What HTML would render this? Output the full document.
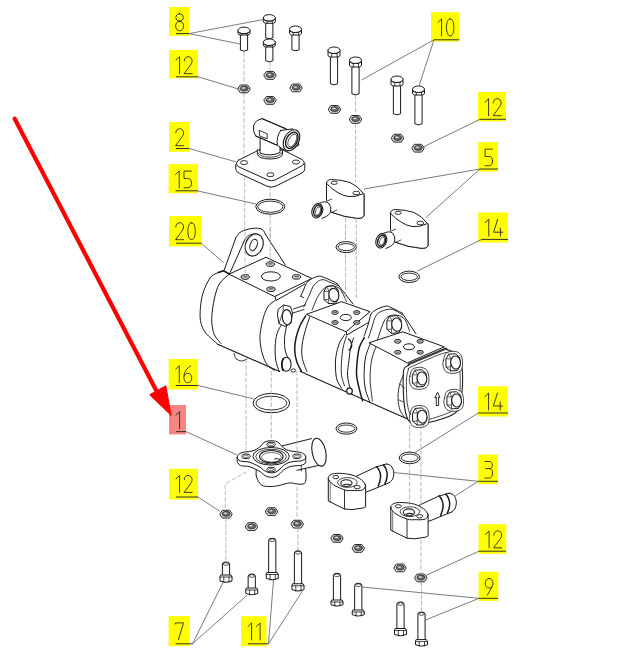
<!DOCTYPE html>
<html><head><meta charset="utf-8"><style>
html,body{margin:0;padding:0;background:#fff;}
svg{display:block;}
</style></head><body>
<svg width="624" height="664" viewBox="0 0 624 664">
<rect width="624" height="664" fill="#fff"/>

<line x1="244" y1="52" x2="244" y2="84" stroke="#a2a2a2" stroke-width="0.75" stroke-dasharray="4.5,1.8"/>
<line x1="244" y1="93" x2="244" y2="160" stroke="#a2a2a2" stroke-width="0.75" stroke-dasharray="4.5,1.8"/>
<line x1="244.7" y1="170" x2="244.7" y2="240" stroke="#a2a2a2" stroke-width="0.75" stroke-dasharray="4.5,1.8"/>
<line x1="270" y1="62" x2="270" y2="71" stroke="#a2a2a2" stroke-width="0.75" stroke-dasharray="4.5,1.8"/>
<line x1="270.2" y1="186" x2="270.2" y2="200" stroke="#a2a2a2" stroke-width="0.75" stroke-dasharray="4.5,1.8"/>
<line x1="270.2" y1="214" x2="270.2" y2="262" stroke="#a2a2a2" stroke-width="0.75" stroke-dasharray="4.5,1.8"/>
<line x1="355.5" y1="95" x2="355.5" y2="114" stroke="#a2a2a2" stroke-width="0.75" stroke-dasharray="4.5,1.8"/>
<line x1="355.5" y1="123" x2="355.5" y2="182" stroke="#a2a2a2" stroke-width="0.75" stroke-dasharray="4.5,1.8"/>
<path d="M223.50,270.70 L224.30,269.80 L236.00,237.30 L246.00,230.00 L254.30,228.20 L262.70,229.80 L265.20,234.00 L285.20,264.80 L311.90,278.50 L311.40,279.00 L315.00,276.70 L320.00,276.30 L325.00,277.50 L336.70,283.30 L353.30,305.00 L370.00,311.70 L372.70,311.80 L379.30,307.70 L386.00,306.80 L392.70,309.30 L416.00,331.80 L444.30,346.80 L450.00,351.70 L461.70,366.70 L462.50,385.00 L458.00,410.00 L423.30,423.30 L410.00,421.70 L408.00,419.20 L320.00,380.30 L299.10,371.00 L279.60,371.50 L217.70,344.20 L206.00,333.30 L201.00,323.30 L200.20,310.70 L202.70,294.00 L209.30,279.00 Z" fill="#fff" stroke="#1a1a1a" stroke-width="0" stroke-linejoin="round" stroke-linecap="round"/>
<path d="M223.50,270.70 C222.08,271.25 217.37,272.62 215.00,274.00 C212.63,275.38 211.35,275.67 209.30,279.00 C207.25,282.33 204.22,288.72 202.70,294.00 C201.18,299.28 200.48,305.82 200.20,310.70 C199.92,315.58 200.03,319.53 201.00,323.30 C201.97,327.07 203.22,329.82 206.00,333.30 C208.78,336.78 215.75,342.38 217.70,344.20" fill="none" stroke="#1a1a1a" stroke-width="1.0" stroke-linejoin="round" stroke-linecap="round"/>
<path d="M229.30,274.00 C227.63,275.67 221.80,279.83 219.30,284.00 C216.80,288.17 215.55,293.55 214.30,299.00 C213.05,304.45 212.10,311.87 211.80,316.70 C211.50,321.53 211.97,324.78 212.50,328.00 C213.03,331.22 213.58,333.42 215.00,336.00 C216.42,338.58 220.00,342.25 221.00,343.50" fill="none" stroke="#1a1a1a" stroke-width="1.0" stroke-linejoin="round" stroke-linecap="round"/>
<path d="M217.70,344.20 L279.60,371.50" fill="none" stroke="#1a1a1a" stroke-width="1.1" stroke-linejoin="round" stroke-linecap="round"/>
<path d="M218.50,272.50 L223.50,270.70 L229.30,274.00" fill="none" stroke="#1a1a1a" stroke-width="1.6" stroke-linejoin="round" stroke-linecap="round"/>
<path d="M229.30,274.00 L266.00,257.30 L311.90,278.50 L275.00,296.40 Z" fill="#fff" stroke="#1a1a1a" stroke-width="1.0" stroke-linejoin="round" stroke-linecap="round"/>
<path d="M275.00,296.40 L276.00,300.50 L304.70,284.10" fill="none" stroke="#1a1a1a" stroke-width="1.0" stroke-linejoin="round" stroke-linecap="round"/>
<ellipse cx="245.2" cy="277" rx="4.2" ry="2.3" fill="#d8d8d8" stroke="#1a1a1a" stroke-width="1.0"/>
<path d="M241.90,276.90 Q245.20,274.90 248.50,276.90 Q245.20,278.26 241.90,276.90 Z" fill="#6a6a6a" stroke="none"/>
<ellipse cx="270.4" cy="264.1" rx="4.2" ry="2.3" fill="#d8d8d8" stroke="#1a1a1a" stroke-width="1.0"/>
<path d="M267.10,264.00 Q270.40,262.00 273.70,264.00 Q270.40,265.37 267.10,264.00 Z" fill="#6a6a6a" stroke="none"/>
<ellipse cx="296.5" cy="276.9" rx="4.2" ry="2.3" fill="#d8d8d8" stroke="#1a1a1a" stroke-width="1.0"/>
<path d="M293.20,276.80 Q296.50,274.80 299.80,276.80 Q296.50,278.16 293.20,276.80 Z" fill="#6a6a6a" stroke="none"/>
<ellipse cx="270.9" cy="289.2" rx="4.2" ry="2.3" fill="#d8d8d8" stroke="#1a1a1a" stroke-width="1.0"/>
<path d="M267.60,289.10 Q270.90,287.10 274.20,289.10 Q270.90,290.46 267.60,289.10 Z" fill="#6a6a6a" stroke="none"/>
<ellipse cx="270.9" cy="276.4" rx="9.5" ry="4.6" fill="#fff" stroke="#1a1a1a" stroke-width="1.0"/>
<path d="M224.30,269.80 L236.00,237.30" fill="none" stroke="#1a1a1a" stroke-width="1.0" stroke-linejoin="round" stroke-linecap="round"/>
<path d="M236.00,237.30 C236.67,236.50 238.17,233.80 240.00,232.50 C241.83,231.20 244.62,230.22 247.00,229.50 C249.38,228.78 252.13,228.37 254.30,228.20 C256.47,228.03 258.47,228.12 260.00,228.50 C261.53,228.88 262.63,229.58 263.50,230.50 C264.37,231.42 264.92,233.42 265.20,234.00" fill="none" stroke="#1a1a1a" stroke-width="1.0" stroke-linejoin="round" stroke-linecap="round"/>
<path d="M265.20,234.00 L285.20,264.80" fill="none" stroke="#1a1a1a" stroke-width="1.0" stroke-linejoin="round" stroke-linecap="round"/>
<path d="M230.20,272.50 L244.30,240.70" fill="none" stroke="#1a1a1a" stroke-width="1.0" stroke-linejoin="round" stroke-linecap="round"/>
<path d="M244.30,240.70 C244.83,239.95 245.97,237.28 247.50,236.20 C249.03,235.12 251.58,234.32 253.50,234.20 C255.42,234.08 257.58,234.70 259.00,235.50 C260.42,236.30 261.50,238.42 262.00,239.00" fill="none" stroke="#1a1a1a" stroke-width="0.9" stroke-linejoin="round" stroke-linecap="round"/>
<ellipse cx="254.2" cy="245" rx="8.6" ry="11.4" fill="#fff" stroke="#1a1a1a" stroke-width="1.1" transform="rotate(22 254.2 245)"/>
<ellipse cx="253.6" cy="245" rx="3.4" ry="5.9" fill="#fff" stroke="#1a1a1a" stroke-width="1.0" transform="rotate(22 253.6 245)"/>
<path d="M275.00,300.50 C273.88,301.45 270.18,303.55 268.30,306.20 C266.42,308.85 265.05,311.88 263.70,316.40 C262.35,320.92 260.73,328.53 260.20,333.30 C259.67,338.07 260.03,341.22 260.50,345.00 C260.97,348.78 261.87,352.68 263.00,356.00 C264.13,359.32 265.38,362.48 267.30,364.90 C269.22,367.32 273.30,369.57 274.50,370.50" fill="none" stroke="#1a1a1a" stroke-width="1.0" stroke-linejoin="round" stroke-linecap="round"/>
<path d="M281.90,323.90 C281.10,325.48 278.23,329.55 277.10,333.40 C275.97,337.25 275.32,342.48 275.10,347.00 C274.88,351.52 275.12,356.43 275.80,360.50 C276.48,364.57 278.63,369.58 279.20,371.40" fill="none" stroke="#1a1a1a" stroke-width="1.0" stroke-linejoin="round" stroke-linecap="round"/>
<path d="M234.00,353.50 C234.33,354.33 234.75,357.25 236.00,358.50 C237.25,359.75 239.67,360.92 241.50,361.00 C243.33,361.08 246.08,359.33 247.00,359.00" fill="none" stroke="#1a1a1a" stroke-width="0.9" stroke-linejoin="round" stroke-linecap="round"/>
<path d="M292.00,313.00 C291.22,314.82 288.53,319.82 287.30,323.90 C286.07,327.98 284.93,332.98 284.60,337.50 C284.27,342.02 284.52,347.17 285.30,351.00 C286.08,354.83 288.63,358.92 289.30,360.50" fill="none" stroke="#1a1a1a" stroke-width="1.0" stroke-linejoin="round" stroke-linecap="round"/>
<path d="M305.60,315.80 C304.70,317.38 301.78,321.68 300.20,325.30 C298.62,328.92 297.02,333.43 296.10,337.50 C295.18,341.57 294.58,345.63 294.70,349.70 C294.82,353.77 295.67,358.28 296.80,361.90 C297.93,365.52 300.72,369.82 301.50,371.40" fill="none" stroke="#1a1a1a" stroke-width="1.5" stroke-linejoin="round" stroke-linecap="round"/>
<path d="M309.70,317.10 C309.02,319.13 306.85,324.78 305.60,329.30 C304.35,333.82 302.77,339.45 302.20,344.20 C301.63,348.95 301.42,353.27 302.20,357.80 C302.98,362.33 306.12,369.13 306.90,371.40" fill="none" stroke="#1a1a1a" stroke-width="1.0" stroke-linejoin="round" stroke-linecap="round"/>
<path d="M293.40,309.00 L305.60,304.90" fill="none" stroke="#1a1a1a" stroke-width="0.9" stroke-linejoin="round" stroke-linecap="round"/>
<path d="M291.50,313.50 L304.00,309.50" fill="none" stroke="#1a1a1a" stroke-width="0.9" stroke-linejoin="round" stroke-linecap="round"/>
<path d="M278.50,309.00 L283.50,305.00 L290.50,306.50 L292.50,313.00 L291.00,323.00 L285.00,326.50 L279.00,323.50 L277.50,315.00 Z" fill="#fff" stroke="#1a1a1a" stroke-width="1.0" stroke-linejoin="round" stroke-linecap="round"/>
<path d="M283.50,305.00 L283.00,312.00 L279.00,323.50" fill="none" stroke="#1a1a1a" stroke-width="0.7" stroke-linejoin="round" stroke-linecap="round"/>
<ellipse cx="287" cy="317.2" rx="4.7" ry="7.6" fill="#fff" stroke="#1a1a1a" stroke-width="1.1" transform="rotate(-5 287 317.2)"/>
<ellipse cx="286.4" cy="364.3" rx="4.7" ry="7" fill="#fff" stroke="#1a1a1a" stroke-width="1.1"/>
<path d="M283.2,358.5 Q280.6,364 283,370.5" fill="none" stroke="#1a1a1a" stroke-width="1.6" stroke-linejoin="round" stroke-linecap="round"/>
<ellipse cx="293.4" cy="370.5" rx="2.3" ry="1.6" fill="#fff" stroke="#1a1a1a" stroke-width="0.9"/>
<path d="M300.80,296.20 L337.00,283.50 L353.10,304.10 L345.00,301.80 L315.00,310.00 L300.80,296.20" fill="#fff" stroke="#1a1a1a" stroke-width="0" stroke-linejoin="round" stroke-linecap="round"/>
<path d="M300.80,296.20 C301.25,295.17 302.57,292.15 303.50,290.00 C304.43,287.85 305.15,285.10 306.40,283.30 C307.65,281.50 309.03,280.38 311.00,279.20 C312.97,278.02 316.15,276.53 318.20,276.20 C320.25,275.87 321.33,276.57 323.30,277.20 C325.27,277.83 327.72,278.95 330.00,280.00 C332.28,281.05 335.83,282.92 337.00,283.50" fill="#fff" stroke="#1a1a1a" stroke-width="1.0" stroke-linejoin="round" stroke-linecap="round"/>
<path d="M337.00,283.50 L353.10,304.10" fill="none" stroke="#1a1a1a" stroke-width="1.0" stroke-linejoin="round" stroke-linecap="round"/>
<path d="M300.80,296.20 L303.80,297.70" fill="none" stroke="#1a1a1a" stroke-width="0.9" stroke-linejoin="round" stroke-linecap="round"/>
<path d="M303.80,306.90 C304.33,305.75 305.97,302.22 307.00,300.00 C308.03,297.78 308.98,295.87 310.00,293.60 C311.02,291.33 311.73,288.45 313.10,286.40 C314.47,284.35 316.50,282.42 318.20,281.30 C319.90,280.18 321.33,279.53 323.30,279.70 C325.27,279.87 327.63,281.33 330.00,282.30 C332.37,283.27 336.25,284.97 337.50,285.50" fill="none" stroke="#1a1a1a" stroke-width="0.9" stroke-linejoin="round" stroke-linecap="round"/>
<path d="M312.00,310.00 C312.42,309.00 313.63,306.05 314.50,304.00 C315.37,301.95 316.07,299.78 317.20,297.70 C318.33,295.62 319.93,293.22 321.30,291.50 C322.67,289.78 323.78,288.35 325.40,287.40 C327.02,286.45 328.90,285.78 331.00,285.80 C333.10,285.82 336.17,286.47 338.00,287.50 C339.83,288.53 340.58,289.67 342.00,292.00 C343.42,294.33 345.75,299.92 346.50,301.50" fill="none" stroke="#1a1a1a" stroke-width="0.9" stroke-linejoin="round" stroke-linecap="round"/>
<path d="M324.11,291.25 L326.64,286.49 L333.73,285.98 L338.09,289.73 L338.50,298.35 L335.76,303.21 L328.67,303.62 L324.31,299.87 Z" fill="#fff" stroke="#1a1a1a" stroke-width="1.0" stroke-linejoin="round" stroke-linecap="round"/>
<path d="M326.64,286.49 L329.17,291.25 L328.67,299.36 L328.67,303.62" fill="none" stroke="#1a1a1a" stroke-width="0.7" stroke-linejoin="round" stroke-linecap="round"/>
<path d="M324.11,291.25 L329.17,291.25" fill="none" stroke="#1a1a1a" stroke-width="0.7" stroke-linejoin="round" stroke-linecap="round"/>
<path d="M324.31,299.87 L328.67,299.36" fill="none" stroke="#1a1a1a" stroke-width="0.7" stroke-linejoin="round" stroke-linecap="round"/>
<ellipse cx="333.83" cy="295.0" rx="4.97" ry="6.69" fill="#fff" stroke="#1a1a1a" stroke-width="1.1" transform="rotate(-8 333.83 295.0)"/>
<path d="M306.70,314.20 L341.70,301.70 L370.00,311.70 L346.30,331.50 Z" fill="#fff" stroke="#1a1a1a" stroke-width="1.0" stroke-linejoin="round" stroke-linecap="round"/>
<path d="M346.30,331.50 L346.70,335.00 L369.30,322.00" fill="none" stroke="#1a1a1a" stroke-width="1.0" stroke-linejoin="round" stroke-linecap="round"/>
<ellipse cx="335" cy="312.5" rx="3.2" ry="1.9" fill="#d8d8d8" stroke="#1a1a1a" stroke-width="1.0"/>
<path d="M332.70,312.40 Q335.00,310.80 337.30,312.40 Q335.00,313.55 332.70,312.40 Z" fill="#6a6a6a" stroke="none"/>
<ellipse cx="356.7" cy="312.5" rx="3.2" ry="1.9" fill="#d8d8d8" stroke="#1a1a1a" stroke-width="1.0"/>
<path d="M354.40,312.40 Q356.70,310.80 359.00,312.40 Q356.70,313.55 354.40,312.40 Z" fill="#6a6a6a" stroke="none"/>
<ellipse cx="335" cy="322.5" rx="3.2" ry="1.9" fill="#d8d8d8" stroke="#1a1a1a" stroke-width="1.0"/>
<path d="M332.70,322.40 Q335.00,320.80 337.30,322.40 Q335.00,323.55 332.70,322.40 Z" fill="#6a6a6a" stroke="none"/>
<ellipse cx="356.7" cy="322.5" rx="3.2" ry="1.9" fill="#d8d8d8" stroke="#1a1a1a" stroke-width="1.0"/>
<path d="M354.40,322.40 Q356.70,320.80 359.00,322.40 Q356.70,323.55 354.40,322.40 Z" fill="#6a6a6a" stroke="none"/>
<ellipse cx="345.8" cy="317.5" rx="5.6" ry="3.1" fill="#fff" stroke="#1a1a1a" stroke-width="1.0"/>
<path d="M345.00,334.20 C344.08,335.67 341.00,339.37 339.50,343.00 C338.00,346.63 336.67,351.83 336.00,356.00 C335.33,360.17 335.33,364.00 335.50,368.00 C335.67,372.00 335.97,376.62 337.00,380.00 C338.03,383.38 340.92,386.92 341.70,388.30" fill="none" stroke="#1a1a1a" stroke-width="1.0" stroke-linejoin="round" stroke-linecap="round"/>
<path d="M300.10,371.30 L320.00,380.30 L408.00,419.20" fill="none" stroke="#1a1a1a" stroke-width="1.1" stroke-linejoin="round" stroke-linecap="round"/>
<path d="M346.50,336.00 C345.92,338.00 343.83,343.67 343.00,348.00 C342.17,352.33 341.75,357.47 341.50,362.00 C341.25,366.53 341.00,371.25 341.50,375.20 C342.00,379.15 344.00,383.95 344.50,385.70" fill="none" stroke="#1a1a1a" stroke-width="0.9" stroke-linejoin="round" stroke-linecap="round"/>
<path d="M353.60,338.00 C353.08,339.67 351.27,344.32 350.50,348.00 C349.73,351.68 349.50,355.57 349.00,360.10 C348.50,364.63 347.25,370.18 347.50,375.20 C347.75,380.22 349.75,387.18 350.50,390.20 C351.25,393.22 351.75,392.78 352.00,393.30" fill="none" stroke="#1a1a1a" stroke-width="1.0" stroke-linejoin="round" stroke-linecap="round"/>
<path d="M364.30,337.70 C363.50,339.25 360.67,343.27 359.50,347.00 C358.33,350.73 357.78,355.40 357.30,360.10 C356.82,364.80 356.22,370.18 356.60,375.20 C356.98,380.22 358.60,385.93 359.60,390.20 C360.60,394.47 362.10,399.03 362.60,400.80" fill="none" stroke="#1a1a1a" stroke-width="1.5" stroke-linejoin="round" stroke-linecap="round"/>
<path d="M370.10,344.30 C369.35,346.43 366.60,351.95 365.60,357.10 C364.60,362.25 364.10,369.68 364.10,375.20 C364.10,380.72 364.60,385.68 365.60,390.20 C366.60,394.72 369.35,400.28 370.10,402.30" fill="none" stroke="#1a1a1a" stroke-width="1.0" stroke-linejoin="round" stroke-linecap="round"/>
<path d="M376.10,346.60 C375.35,348.85 372.60,354.58 371.60,360.10 C370.60,365.62 369.97,372.92 370.10,379.70 C370.23,386.48 372.02,397.28 372.40,400.80" fill="none" stroke="#1a1a1a" stroke-width="0.9" stroke-linejoin="round" stroke-linecap="round"/>
<path d="M348.50,339.00 C348.92,339.50 350.50,340.67 351.00,342.00 C351.50,343.33 351.83,345.67 351.50,347.00 C351.17,348.33 349.42,349.50 349.00,350.00" fill="none" stroke="#1a1a1a" stroke-width="1.3" stroke-linejoin="round" stroke-linecap="round"/>
<ellipse cx="349.5" cy="391" rx="2.8" ry="3.2" fill="#fff" stroke="#1a1a1a" stroke-width="1.2"/>
<path d="M364.10,336.10 C364.75,334.25 366.85,328.67 368.00,325.00 C369.15,321.33 369.92,316.48 371.00,314.10 C372.08,311.72 373.00,311.75 374.50,310.70 C376.00,309.65 378.08,308.57 380.00,307.80 C381.92,307.03 384.43,306.28 386.00,306.10 C387.57,305.92 386.72,305.55 389.40,306.70 C392.08,307.85 399.98,311.95 402.10,313.00" fill="#fff" stroke="#1a1a1a" stroke-width="1.0" stroke-linejoin="round" stroke-linecap="round"/>
<path d="M402.10,313.00 L416.00,333.80 L406.70,331.40 L377.00,340.00 L364.10,336.10" fill="#fff" stroke="#1a1a1a" stroke-width="0" stroke-linejoin="round" stroke-linecap="round"/>
<path d="M402.10,313.00 L416.00,333.80" fill="none" stroke="#1a1a1a" stroke-width="1.0" stroke-linejoin="round" stroke-linecap="round"/>
<path d="M368.50,338.00 C369.08,336.17 370.83,330.58 372.00,327.00 C373.17,323.42 374.00,319.08 375.50,316.50 C377.00,313.92 378.25,312.70 381.00,311.50 C383.75,310.30 388.40,308.72 392.00,309.30 C395.60,309.88 400.83,314.05 402.60,315.00" fill="none" stroke="#1a1a1a" stroke-width="0.9" stroke-linejoin="round" stroke-linecap="round"/>
<path d="M377.50,339.50 C377.92,338.25 379.17,334.42 380.00,332.00 C380.83,329.58 381.67,327.08 382.50,325.00 C383.33,322.92 383.83,321.00 385.00,319.50 C386.17,318.00 387.67,316.75 389.50,316.00 C391.33,315.25 393.92,314.83 396.00,315.00 C398.08,315.17 400.33,315.92 402.00,317.00 C403.67,318.08 404.75,319.17 406.00,321.50 C407.25,323.83 408.92,329.42 409.50,331.00" fill="none" stroke="#1a1a1a" stroke-width="0.9" stroke-linejoin="round" stroke-linecap="round"/>
<path d="M387.01,320.95 L389.54,316.19 L396.63,315.68 L400.99,319.43 L401.40,328.05 L398.66,332.91 L391.57,333.32 L387.21,329.57 Z" fill="#fff" stroke="#1a1a1a" stroke-width="1.0" stroke-linejoin="round" stroke-linecap="round"/>
<path d="M389.54,316.19 L392.07,320.95 L391.57,329.06 L391.57,333.32" fill="none" stroke="#1a1a1a" stroke-width="0.7" stroke-linejoin="round" stroke-linecap="round"/>
<path d="M387.01,320.95 L392.07,320.95" fill="none" stroke="#1a1a1a" stroke-width="0.7" stroke-linejoin="round" stroke-linecap="round"/>
<path d="M387.21,329.57 L391.57,329.06" fill="none" stroke="#1a1a1a" stroke-width="0.7" stroke-linejoin="round" stroke-linecap="round"/>
<ellipse cx="396.73" cy="324.7" rx="4.97" ry="6.69" fill="#fff" stroke="#1a1a1a" stroke-width="1.1" transform="rotate(-8 396.73 324.7)"/>
<path d="M369.30,342.70 L402.70,331.80 L444.30,346.80 L407.70,362.70 Z" fill="#fff" stroke="#1a1a1a" stroke-width="1.0" stroke-linejoin="round" stroke-linecap="round"/>
<ellipse cx="397.7" cy="341.3" rx="3.2" ry="1.9" fill="#d8d8d8" stroke="#1a1a1a" stroke-width="1.0"/>
<path d="M395.40,341.20 Q397.70,339.60 400.00,341.20 Q397.70,342.35 395.40,341.20 Z" fill="#6a6a6a" stroke="none"/>
<ellipse cx="420.2" cy="341.3" rx="3.2" ry="1.9" fill="#d8d8d8" stroke="#1a1a1a" stroke-width="1.0"/>
<path d="M417.90,341.20 Q420.20,339.60 422.50,341.20 Q420.20,342.35 417.90,341.20 Z" fill="#6a6a6a" stroke="none"/>
<ellipse cx="397.7" cy="352.3" rx="3.2" ry="1.9" fill="#d8d8d8" stroke="#1a1a1a" stroke-width="1.0"/>
<path d="M395.40,352.20 Q397.70,350.60 400.00,352.20 Q397.70,353.35 395.40,352.20 Z" fill="#6a6a6a" stroke="none"/>
<ellipse cx="420.2" cy="352.3" rx="3.2" ry="1.9" fill="#d8d8d8" stroke="#1a1a1a" stroke-width="1.0"/>
<path d="M417.90,352.20 Q420.20,350.60 422.50,352.20 Q420.20,353.35 417.90,352.20 Z" fill="#6a6a6a" stroke="none"/>
<ellipse cx="409" cy="346.8" rx="5.5" ry="3" fill="#fff" stroke="#1a1a1a" stroke-width="1.0"/>
<path d="M446.00,349.30 C447.00,349.67 449.83,350.05 452.00,351.50 C454.17,352.95 457.33,355.25 459.00,358.00 C460.67,360.75 461.42,363.50 462.00,368.00 C462.58,372.50 462.67,380.00 462.50,385.00 C462.33,390.00 461.75,393.83 461.00,398.00 C460.25,402.17 459.83,407.00 458.00,410.00 C456.17,413.00 453.83,414.17 450.00,416.00 C446.17,417.83 439.45,419.78 435.00,421.00 C430.55,422.22 427.47,423.18 423.30,423.30 C419.13,423.42 412.97,423.58 410.00,421.70 C407.03,419.82 406.58,416.45 405.50,412.00 C404.42,407.55 403.87,401.45 403.50,395.00 C403.13,388.55 403.05,377.88 403.30,373.30 C403.55,368.72 404.00,368.88 405.00,367.50 C406.00,366.12 408.58,365.42 409.30,365.00" fill="#fff" stroke="#1a1a1a" stroke-width="1.1" stroke-linejoin="round" stroke-linecap="round"/>
<path d="M408.50,369.00 C409.08,368.58 405.75,369.25 412.00,366.50 C418.25,363.75 438.67,353.92 446.00,352.50 C453.33,351.08 453.75,355.42 456.00,358.00 C458.25,360.58 458.83,362.67 459.50,368.00 C460.17,373.33 460.58,383.50 460.00,390.00 C459.42,396.50 458.00,403.17 456.00,407.00 C454.00,410.83 453.33,410.75 448.00,413.00 C442.67,415.25 429.83,419.58 424.00,420.50 C418.17,421.42 415.75,421.08 413.00,418.50 C410.25,415.92 408.58,411.42 407.50,405.00 C406.42,398.58 406.33,386.00 406.50,380.00 C406.67,374.00 408.17,370.83 408.50,369.00 C408.83,367.17 407.92,369.42 408.50,369.00 Z" fill="none" stroke="#1a1a1a" stroke-width="0.8" stroke-linejoin="round" stroke-linecap="round"/>
<path d="M408.5,364.2 L446,348.6" fill="none" stroke="#3a3a3a" stroke-width="2.2" stroke-linejoin="round" stroke-linecap="round"/>
<path d="M403.50,375.00 C402.83,376.67 400.42,381.17 399.50,385.00 C398.58,388.83 397.92,393.83 398.00,398.00 C398.08,402.17 398.83,406.67 400.00,410.00 C401.17,413.33 404.17,416.67 405.00,418.00" fill="none" stroke="#1a1a1a" stroke-width="0.9" stroke-linejoin="round" stroke-linecap="round"/>
<path d="M400.00,384.00 L404.50,388.00" fill="none" stroke="#1a1a1a" stroke-width="0.8" stroke-linejoin="round" stroke-linecap="round"/>
<path d="M399.00,400.00 L403.50,402.00" fill="none" stroke="#1a1a1a" stroke-width="0.8" stroke-linejoin="round" stroke-linecap="round"/>
<path d="M409.90,376.30 C410.40,374.30 410.65,370.80 412.40,369.30 C414.15,367.80 417.98,367.13 420.40,367.30 C422.82,367.47 425.48,368.47 426.90,370.30 C428.32,372.13 428.82,375.63 428.90,378.30 C428.98,380.97 428.82,384.47 427.40,386.30 C425.98,388.13 422.90,389.05 420.40,389.30 C417.90,389.55 414.23,389.13 412.40,387.80 C410.57,386.47 409.82,383.22 409.40,381.30 C408.98,379.38 409.40,378.30 409.90,376.30 Z" fill="#fff" stroke="#1a1a1a" stroke-width="0.8" stroke-linejoin="round" stroke-linecap="round"/>
<path d="M412.49,374.85 L414.96,370.21 L421.87,369.72 L426.11,373.37 L426.50,381.75 L423.84,386.49 L416.93,386.88 L412.69,383.23 Z" fill="#fff" stroke="#1a1a1a" stroke-width="1.0" stroke-linejoin="round" stroke-linecap="round"/>
<path d="M414.96,370.21 L417.43,374.85 L416.93,382.74 L416.93,386.88" fill="none" stroke="#1a1a1a" stroke-width="0.7" stroke-linejoin="round" stroke-linecap="round"/>
<path d="M412.49,374.85 L417.43,374.85" fill="none" stroke="#1a1a1a" stroke-width="0.7" stroke-linejoin="round" stroke-linecap="round"/>
<path d="M412.69,383.23 L416.93,382.74" fill="none" stroke="#1a1a1a" stroke-width="0.7" stroke-linejoin="round" stroke-linecap="round"/>
<ellipse cx="421.97" cy="378.5" rx="4.83" ry="6.51" fill="#fff" stroke="#1a1a1a" stroke-width="1.1" transform="rotate(-8 421.97 378.5)"/>
<path d="M443.50,360.30 C444.00,358.30 444.25,354.80 446.00,353.30 C447.75,351.80 451.58,351.13 454.00,351.30 C456.42,351.47 459.08,352.47 460.50,354.30 C461.92,356.13 462.42,359.63 462.50,362.30 C462.58,364.97 462.42,368.47 461.00,370.30 C459.58,372.13 456.50,373.05 454.00,373.30 C451.50,373.55 447.83,373.13 446.00,371.80 C444.17,370.47 443.42,367.22 443.00,365.30 C442.58,363.38 443.00,362.30 443.50,360.30 Z" fill="#fff" stroke="#1a1a1a" stroke-width="0.8" stroke-linejoin="round" stroke-linecap="round"/>
<path d="M446.09,358.85 L448.56,354.21 L455.47,353.72 L459.71,357.37 L460.10,365.75 L457.44,370.49 L450.53,370.88 L446.29,367.23 Z" fill="#fff" stroke="#1a1a1a" stroke-width="1.0" stroke-linejoin="round" stroke-linecap="round"/>
<path d="M448.56,354.21 L451.03,358.85 L450.53,366.74 L450.53,370.88" fill="none" stroke="#1a1a1a" stroke-width="0.7" stroke-linejoin="round" stroke-linecap="round"/>
<path d="M446.09,358.85 L451.03,358.85" fill="none" stroke="#1a1a1a" stroke-width="0.7" stroke-linejoin="round" stroke-linecap="round"/>
<path d="M446.29,367.23 L450.53,366.74" fill="none" stroke="#1a1a1a" stroke-width="0.7" stroke-linejoin="round" stroke-linecap="round"/>
<ellipse cx="455.57" cy="362.5" rx="4.83" ry="6.51" fill="#fff" stroke="#1a1a1a" stroke-width="1.1" transform="rotate(-8 455.57 362.5)"/>
<path d="M444.50,398.30 C445.00,396.30 445.25,392.80 447.00,391.30 C448.75,389.80 452.58,389.13 455.00,389.30 C457.42,389.47 460.08,390.47 461.50,392.30 C462.92,394.13 463.42,397.63 463.50,400.30 C463.58,402.97 463.42,406.47 462.00,408.30 C460.58,410.13 457.50,411.05 455.00,411.30 C452.50,411.55 448.83,411.13 447.00,409.80 C445.17,408.47 444.42,405.22 444.00,403.30 C443.58,401.38 444.00,400.30 444.50,398.30 Z" fill="#fff" stroke="#1a1a1a" stroke-width="0.8" stroke-linejoin="round" stroke-linecap="round"/>
<path d="M447.09,396.85 L449.56,392.21 L456.47,391.72 L460.71,395.37 L461.10,403.75 L458.44,408.49 L451.53,408.88 L447.29,405.23 Z" fill="#fff" stroke="#1a1a1a" stroke-width="1.0" stroke-linejoin="round" stroke-linecap="round"/>
<path d="M449.56,392.21 L452.03,396.85 L451.53,404.74 L451.53,408.88" fill="none" stroke="#1a1a1a" stroke-width="0.7" stroke-linejoin="round" stroke-linecap="round"/>
<path d="M447.09,396.85 L452.03,396.85" fill="none" stroke="#1a1a1a" stroke-width="0.7" stroke-linejoin="round" stroke-linecap="round"/>
<path d="M447.29,405.23 L451.53,404.74" fill="none" stroke="#1a1a1a" stroke-width="0.7" stroke-linejoin="round" stroke-linecap="round"/>
<ellipse cx="456.57" cy="400.5" rx="4.83" ry="6.51" fill="#fff" stroke="#1a1a1a" stroke-width="1.1" transform="rotate(-8 456.57 400.5)"/>
<path d="M410.10,414.50 C410.60,412.50 410.85,409.00 412.60,407.50 C414.35,406.00 418.18,405.33 420.60,405.50 C423.02,405.67 425.68,406.67 427.10,408.50 C428.52,410.33 429.02,413.83 429.10,416.50 C429.18,419.17 429.02,422.67 427.60,424.50 C426.18,426.33 423.10,427.25 420.60,427.50 C418.10,427.75 414.43,427.33 412.60,426.00 C410.77,424.67 410.02,421.42 409.60,419.50 C409.18,417.58 409.60,416.50 410.10,414.50 Z" fill="#fff" stroke="#1a1a1a" stroke-width="0.8" stroke-linejoin="round" stroke-linecap="round"/>
<path d="M412.69,413.05 L415.16,408.41 L422.07,407.92 L426.31,411.57 L426.70,419.95 L424.04,424.69 L417.13,425.08 L412.89,421.43 Z" fill="#fff" stroke="#1a1a1a" stroke-width="1.0" stroke-linejoin="round" stroke-linecap="round"/>
<path d="M415.16,408.41 L417.63,413.05 L417.13,420.94 L417.13,425.08" fill="none" stroke="#1a1a1a" stroke-width="0.7" stroke-linejoin="round" stroke-linecap="round"/>
<path d="M412.69,413.05 L417.63,413.05" fill="none" stroke="#1a1a1a" stroke-width="0.7" stroke-linejoin="round" stroke-linecap="round"/>
<path d="M412.89,421.43 L417.13,420.94" fill="none" stroke="#1a1a1a" stroke-width="0.7" stroke-linejoin="round" stroke-linecap="round"/>
<ellipse cx="422.17" cy="416.7" rx="4.83" ry="6.51" fill="#fff" stroke="#1a1a1a" stroke-width="1.1" transform="rotate(-8 422.17 416.7)"/>
<path d="M436.30,405.50 L436.30,397.00 L434.80,398.00 L437.60,392.20 L439.90,397.50 L438.60,397.00 L438.60,405.50 L436.30,405.50" fill="#fff" stroke="#1a1a1a" stroke-width="0.9" stroke-linejoin="round" stroke-linecap="round"/>
<line x1="245" y1="232" x2="245" y2="273" stroke="#a2a2a2" stroke-width="0.75" stroke-dasharray="4.5,1.8"/>
<line x1="270.2" y1="228" x2="270.2" y2="261" stroke="#a2a2a2" stroke-width="0.75" stroke-dasharray="4.5,1.8"/>
<path d="M240.40,35 L240.40,50.099999999999994 Q244.00,52.099999999999994 247.60,50.099999999999994 L247.60,35" fill="#fff" stroke="#1a1a1a" stroke-width="1.0" stroke-linejoin="round" stroke-linecap="round"/>
<path d="M238.00,30.40 L238.00,33.70 L240.00,35.00 L248.00,35.00 L250.00,33.70 L250.00,30.40" fill="#fff" stroke="#1a1a1a" stroke-width="1.0" stroke-linejoin="round" stroke-linecap="round"/>
<ellipse cx="244.00" cy="30.40" rx="6.00" ry="3.30" fill="#fff" stroke="#1a1a1a" stroke-width="1"/>
<path d="M238.50,32.40 L241.80,33.60 L247.00,33.40 L249.50,31.90 M241.80,33.60 L241.80,35.00 M247.00,33.40 L247.00,35.00" fill="none" stroke="#1a1a1a" stroke-width="0.8" stroke-linejoin="round" stroke-linecap="round"/>
<path d="M265.70,23.3 L265.70,37.8 Q269.30,39.8 272.90,37.8 L272.90,23.3" fill="#fff" stroke="#1a1a1a" stroke-width="1.0" stroke-linejoin="round" stroke-linecap="round"/>
<path d="M263.30,17.90 L263.30,22.00 L265.30,23.30 L273.30,23.30 L275.30,22.00 L275.30,17.90" fill="#fff" stroke="#1a1a1a" stroke-width="1.0" stroke-linejoin="round" stroke-linecap="round"/>
<ellipse cx="269.30" cy="17.90" rx="6.00" ry="3.30" fill="#fff" stroke="#1a1a1a" stroke-width="1"/>
<path d="M263.80,19.90 L267.10,21.10 L272.30,20.90 L274.80,19.40 M267.10,21.10 L267.10,23.30 M272.30,20.90 L272.30,23.30" fill="none" stroke="#1a1a1a" stroke-width="0.8" stroke-linejoin="round" stroke-linecap="round"/>
<path d="M265.70,47 L265.70,60.8 Q269.30,62.8 272.90,60.8 L272.90,47" fill="#fff" stroke="#1a1a1a" stroke-width="1.0" stroke-linejoin="round" stroke-linecap="round"/>
<path d="M263.30,42.30 L263.30,45.70 L265.30,47.00 L273.30,47.00 L275.30,45.70 L275.30,42.30" fill="#fff" stroke="#1a1a1a" stroke-width="1.0" stroke-linejoin="round" stroke-linecap="round"/>
<ellipse cx="269.30" cy="42.30" rx="6.00" ry="3.30" fill="#fff" stroke="#1a1a1a" stroke-width="1"/>
<path d="M263.80,44.30 L267.10,45.50 L272.30,45.30 L274.80,43.80 M267.10,45.50 L267.10,47.00 M272.30,45.30 L272.30,47.00" fill="none" stroke="#1a1a1a" stroke-width="0.8" stroke-linejoin="round" stroke-linecap="round"/>
<path d="M291.90,35 L291.90,49.8 Q295.50,51.8 299.10,49.8 L299.10,35" fill="#fff" stroke="#1a1a1a" stroke-width="1.0" stroke-linejoin="round" stroke-linecap="round"/>
<path d="M289.50,29.30 L289.50,33.70 L291.50,35.00 L299.50,35.00 L301.50,33.70 L301.50,29.30" fill="#fff" stroke="#1a1a1a" stroke-width="1.0" stroke-linejoin="round" stroke-linecap="round"/>
<ellipse cx="295.50" cy="29.30" rx="6.00" ry="3.30" fill="#fff" stroke="#1a1a1a" stroke-width="1"/>
<path d="M290.00,31.30 L293.30,32.50 L298.50,32.30 L301.00,30.80 M293.30,32.50 L293.30,35.00 M298.50,32.30 L298.50,35.00" fill="none" stroke="#1a1a1a" stroke-width="0.8" stroke-linejoin="round" stroke-linecap="round"/>
<path d="M330.40,57 L330.40,83.8 Q334.00,85.8 337.60,83.8 L337.60,57" fill="#fff" stroke="#1a1a1a" stroke-width="1.0" stroke-linejoin="round" stroke-linecap="round"/>
<path d="M328.00,50.30 L328.00,55.70 L330.00,57.00 L338.00,57.00 L340.00,55.70 L340.00,50.30" fill="#fff" stroke="#1a1a1a" stroke-width="1.0" stroke-linejoin="round" stroke-linecap="round"/>
<ellipse cx="334.00" cy="50.30" rx="6.00" ry="3.30" fill="#fff" stroke="#1a1a1a" stroke-width="1"/>
<path d="M328.50,52.30 L331.80,53.50 L337.00,53.30 L339.50,51.80 M331.80,53.50 L331.80,57.00 M337.00,53.30 L337.00,57.00" fill="none" stroke="#1a1a1a" stroke-width="0.8" stroke-linejoin="round" stroke-linecap="round"/>
<path d="M351.90,67 L351.90,93.8 Q355.50,95.8 359.10,93.8 L359.10,67" fill="#fff" stroke="#1a1a1a" stroke-width="1.0" stroke-linejoin="round" stroke-linecap="round"/>
<path d="M349.50,60.30 L349.50,65.70 L351.50,67.00 L359.50,67.00 L361.50,65.70 L361.50,60.30" fill="#fff" stroke="#1a1a1a" stroke-width="1.0" stroke-linejoin="round" stroke-linecap="round"/>
<ellipse cx="355.50" cy="60.30" rx="6.00" ry="3.30" fill="#fff" stroke="#1a1a1a" stroke-width="1"/>
<path d="M350.00,62.30 L353.30,63.50 L358.50,63.30 L361.00,61.80 M353.30,63.50 L353.30,67.00 M358.50,63.30 L358.50,67.00" fill="none" stroke="#1a1a1a" stroke-width="0.8" stroke-linejoin="round" stroke-linecap="round"/>
<path d="M393.40,86 L393.40,113.8 Q397.00,115.8 400.60,113.8 L400.60,86" fill="#fff" stroke="#1a1a1a" stroke-width="1.0" stroke-linejoin="round" stroke-linecap="round"/>
<path d="M391.00,79.30 L391.00,84.70 L393.00,86.00 L401.00,86.00 L403.00,84.70 L403.00,79.30" fill="#fff" stroke="#1a1a1a" stroke-width="1.0" stroke-linejoin="round" stroke-linecap="round"/>
<ellipse cx="397.00" cy="79.30" rx="6.00" ry="3.30" fill="#fff" stroke="#1a1a1a" stroke-width="1"/>
<path d="M391.50,81.30 L394.80,82.50 L400.00,82.30 L402.50,80.80 M394.80,82.50 L394.80,86.00 M400.00,82.30 L400.00,86.00" fill="none" stroke="#1a1a1a" stroke-width="0.8" stroke-linejoin="round" stroke-linecap="round"/>
<path d="M414.90,95 L414.90,123.8 Q418.50,125.8 422.10,123.8 L422.10,95" fill="#fff" stroke="#1a1a1a" stroke-width="1.0" stroke-linejoin="round" stroke-linecap="round"/>
<path d="M412.50,89.30 L412.50,93.70 L414.50,95.00 L422.50,95.00 L424.50,93.70 L424.50,89.30" fill="#fff" stroke="#1a1a1a" stroke-width="1.0" stroke-linejoin="round" stroke-linecap="round"/>
<ellipse cx="418.50" cy="89.30" rx="6.00" ry="3.30" fill="#fff" stroke="#1a1a1a" stroke-width="1"/>
<path d="M413.00,91.30 L416.30,92.50 L421.50,92.30 L424.00,90.80 M416.30,92.50 L416.30,95.00 M421.50,92.30 L421.50,95.00" fill="none" stroke="#1a1a1a" stroke-width="0.8" stroke-linejoin="round" stroke-linecap="round"/>
<path d="M238.1,88.10000000000001 L240.4,85.0 L247.6,85.0 L249.9,88.10000000000001 L249.9,89.7 L247.6,92.80000000000001 L240.4,92.80000000000001 L238.1,89.7 Z" fill="#dcdcdc" stroke="#2a2a2a" stroke-width="1.0" stroke-linejoin="round"/>
<ellipse cx="244.2" cy="88.60000000000001" rx="4.0" ry="2.5" fill="#6a6a6a" stroke="#2a2a2a" stroke-width="0.8"/>
<ellipse cx="243.4" cy="88.0" rx="1.8" ry="0.8" fill="#e8e8e8"/>
<path d="M264.1,74.60000000000001 L266.4,71.5 L273.6,71.5 L275.9,74.60000000000001 L275.9,76.2 L273.6,79.30000000000001 L266.4,79.30000000000001 L264.1,76.2 Z" fill="#dcdcdc" stroke="#2a2a2a" stroke-width="1.0" stroke-linejoin="round"/>
<ellipse cx="270.2" cy="75.10000000000001" rx="4.0" ry="2.5" fill="#6a6a6a" stroke="#2a2a2a" stroke-width="0.8"/>
<ellipse cx="269.4" cy="74.5" rx="1.8" ry="0.8" fill="#e8e8e8"/>
<path d="M290.1,87.10000000000001 L292.4,84.0 L299.6,84.0 L301.9,87.10000000000001 L301.9,88.7 L299.6,91.80000000000001 L292.4,91.80000000000001 L290.1,88.7 Z" fill="#dcdcdc" stroke="#2a2a2a" stroke-width="1.0" stroke-linejoin="round"/>
<ellipse cx="296.2" cy="87.60000000000001" rx="4.0" ry="2.5" fill="#6a6a6a" stroke="#2a2a2a" stroke-width="0.8"/>
<ellipse cx="295.4" cy="87.0" rx="1.8" ry="0.8" fill="#e8e8e8"/>
<path d="M264.1,99.60000000000001 L266.4,96.5 L273.6,96.5 L275.9,99.60000000000001 L275.9,101.2 L273.6,104.30000000000001 L266.4,104.30000000000001 L264.1,101.2 Z" fill="#dcdcdc" stroke="#2a2a2a" stroke-width="1.0" stroke-linejoin="round"/>
<ellipse cx="270.2" cy="100.10000000000001" rx="4.0" ry="2.5" fill="#6a6a6a" stroke="#2a2a2a" stroke-width="0.8"/>
<ellipse cx="269.4" cy="99.5" rx="1.8" ry="0.8" fill="#e8e8e8"/>
<path d="M328.6,108.60000000000001 L330.9,105.5 L338.1,105.5 L340.4,108.60000000000001 L340.4,110.2 L338.1,113.30000000000001 L330.9,113.30000000000001 L328.6,110.2 Z" fill="#dcdcdc" stroke="#2a2a2a" stroke-width="1.0" stroke-linejoin="round"/>
<ellipse cx="334.7" cy="109.10000000000001" rx="4.0" ry="2.5" fill="#6a6a6a" stroke="#2a2a2a" stroke-width="0.8"/>
<ellipse cx="333.9" cy="108.5" rx="1.8" ry="0.8" fill="#e8e8e8"/>
<path d="M349.6,118.60000000000001 L351.9,115.5 L359.1,115.5 L361.4,118.60000000000001 L361.4,120.2 L359.1,123.30000000000001 L351.9,123.30000000000001 L349.6,120.2 Z" fill="#dcdcdc" stroke="#2a2a2a" stroke-width="1.0" stroke-linejoin="round"/>
<ellipse cx="355.7" cy="119.10000000000001" rx="4.0" ry="2.5" fill="#6a6a6a" stroke="#2a2a2a" stroke-width="0.8"/>
<ellipse cx="354.9" cy="118.5" rx="1.8" ry="0.8" fill="#e8e8e8"/>
<path d="M391.6,137.4 L393.9,134.3 L401.1,134.3 L403.4,137.4 L403.4,139.00000000000003 L401.1,142.10000000000002 L393.9,142.10000000000002 L391.6,139.00000000000003 Z" fill="#dcdcdc" stroke="#2a2a2a" stroke-width="1.0" stroke-linejoin="round"/>
<ellipse cx="397.7" cy="137.9" rx="4.0" ry="2.5" fill="#6a6a6a" stroke="#2a2a2a" stroke-width="0.8"/>
<ellipse cx="396.9" cy="137.3" rx="1.8" ry="0.8" fill="#e8e8e8"/>
<path d="M412.1,147.4 L414.4,144.3 L421.6,144.3 L423.9,147.4 L423.9,149.00000000000003 L421.6,152.10000000000002 L414.4,152.10000000000002 L412.1,149.00000000000003 Z" fill="#dcdcdc" stroke="#2a2a2a" stroke-width="1.0" stroke-linejoin="round"/>
<ellipse cx="418.2" cy="147.9" rx="4.0" ry="2.5" fill="#6a6a6a" stroke="#2a2a2a" stroke-width="0.8"/>
<ellipse cx="417.4" cy="147.3" rx="1.8" ry="0.8" fill="#e8e8e8"/>
<path d="M220.1,513.35 L222.4,510.25 L229.6,510.25 L231.9,513.35 L231.9,514.9499999999999 L229.6,518.05 L222.4,518.05 L220.1,514.9499999999999 Z" fill="#dcdcdc" stroke="#2a2a2a" stroke-width="1.0" stroke-linejoin="round"/>
<ellipse cx="226.2" cy="513.85" rx="4.0" ry="2.5" fill="#6a6a6a" stroke="#2a2a2a" stroke-width="0.8"/>
<ellipse cx="225.4" cy="513.25" rx="1.8" ry="0.8" fill="#e8e8e8"/>
<path d="M265.6,510.84999999999997 L267.9,507.75 L275.1,507.75 L277.4,510.84999999999997 L277.4,512.4499999999999 L275.1,515.55 L267.9,515.55 L265.6,512.4499999999999 Z" fill="#dcdcdc" stroke="#2a2a2a" stroke-width="1.0" stroke-linejoin="round"/>
<ellipse cx="271.7" cy="511.34999999999997" rx="4.0" ry="2.5" fill="#6a6a6a" stroke="#2a2a2a" stroke-width="0.8"/>
<ellipse cx="270.9" cy="510.75" rx="1.8" ry="0.8" fill="#e8e8e8"/>
<path d="M245.6,525.85 L247.9,522.75 L255.1,522.75 L257.4,525.85 L257.4,527.4499999999999 L255.1,530.55 L247.9,530.55 L245.6,527.4499999999999 Z" fill="#dcdcdc" stroke="#2a2a2a" stroke-width="1.0" stroke-linejoin="round"/>
<ellipse cx="251.7" cy="526.35" rx="4.0" ry="2.5" fill="#6a6a6a" stroke="#2a2a2a" stroke-width="0.8"/>
<ellipse cx="250.9" cy="525.75" rx="1.8" ry="0.8" fill="#e8e8e8"/>
<path d="M291.35,523.35 L293.65,520.25 L300.85,520.25 L303.15,523.35 L303.15,524.9499999999999 L300.85,528.05 L293.65,528.05 L291.35,524.9499999999999 Z" fill="#dcdcdc" stroke="#2a2a2a" stroke-width="1.0" stroke-linejoin="round"/>
<ellipse cx="297.45" cy="523.85" rx="4.0" ry="2.5" fill="#6a6a6a" stroke="#2a2a2a" stroke-width="0.8"/>
<ellipse cx="296.65" cy="523.25" rx="1.8" ry="0.8" fill="#e8e8e8"/>
<path d="M331.1,537.6 L333.4,534.5 L340.6,534.5 L342.9,537.6 L342.9,539.1999999999999 L340.6,542.3 L333.4,542.3 L331.1,539.1999999999999 Z" fill="#dcdcdc" stroke="#2a2a2a" stroke-width="1.0" stroke-linejoin="round"/>
<ellipse cx="337.2" cy="538.1" rx="4.0" ry="2.5" fill="#6a6a6a" stroke="#2a2a2a" stroke-width="0.8"/>
<ellipse cx="336.4" cy="537.5" rx="1.8" ry="0.8" fill="#e8e8e8"/>
<path d="M352.35,547.6 L354.65,544.5 L361.85,544.5 L364.15,547.6 L364.15,549.1999999999999 L361.85,552.3 L354.65,552.3 L352.35,549.1999999999999 Z" fill="#dcdcdc" stroke="#2a2a2a" stroke-width="1.0" stroke-linejoin="round"/>
<ellipse cx="358.45" cy="548.1" rx="4.0" ry="2.5" fill="#6a6a6a" stroke="#2a2a2a" stroke-width="0.8"/>
<ellipse cx="357.65" cy="547.5" rx="1.8" ry="0.8" fill="#e8e8e8"/>
<path d="M394.1,567.1 L396.4,564.0 L403.6,564.0 L405.9,567.1 L405.9,568.6999999999999 L403.6,571.8 L396.4,571.8 L394.1,568.6999999999999 Z" fill="#dcdcdc" stroke="#2a2a2a" stroke-width="1.0" stroke-linejoin="round"/>
<ellipse cx="400.2" cy="567.6" rx="4.0" ry="2.5" fill="#6a6a6a" stroke="#2a2a2a" stroke-width="0.8"/>
<ellipse cx="399.4" cy="567.0" rx="1.8" ry="0.8" fill="#e8e8e8"/>
<path d="M414.85,577.1 L417.15,574.0 L424.35,574.0 L426.65,577.1 L426.65,578.6999999999999 L424.35,581.8 L417.15,581.8 L414.85,578.6999999999999 Z" fill="#dcdcdc" stroke="#2a2a2a" stroke-width="1.0" stroke-linejoin="round"/>
<ellipse cx="420.95" cy="577.6" rx="4.0" ry="2.5" fill="#6a6a6a" stroke="#2a2a2a" stroke-width="0.8"/>
<ellipse cx="420.15" cy="577.0" rx="1.8" ry="0.8" fill="#e8e8e8"/>
<path d="M222.40,575 L222.40,564.00 A3.60,2 0 0 1 229.60,564.00 L229.60,575" fill="#fff" stroke="#1a1a1a" stroke-width="1.0" stroke-linejoin="round" stroke-linecap="round"/>
<ellipse cx="226.00" cy="564.00" rx="2.80" ry="1.3" fill="none" stroke="#1a1a1a" stroke-width="0.7"/>
<path d="M221.00,575 L231.00,575 L232.00,577.00 L232.00,581.00 Q226.00,583.70 220.00,581.00 L220.00,577.00 Z" fill="#fff" stroke="#1a1a1a" stroke-width="1.0" stroke-linejoin="round" stroke-linecap="round"/>
<path d="M223.80,577 L223.80,582.50 M229.00,577 L229.00,582.20 M220.00,577 L232.00,577" fill="none" stroke="#1a1a1a" stroke-width="0.8" stroke-linejoin="round" stroke-linecap="round"/>
<path d="M248.15,588 L248.15,576.00 A3.60,2 0 0 1 255.35,576.00 L255.35,588" fill="#fff" stroke="#1a1a1a" stroke-width="1.0" stroke-linejoin="round" stroke-linecap="round"/>
<ellipse cx="251.75" cy="576.00" rx="2.80" ry="1.3" fill="none" stroke="#1a1a1a" stroke-width="0.7"/>
<path d="M246.75,588 L256.75,588 L257.75,590.00 L257.75,593.50 Q251.75,596.20 245.75,593.50 L245.75,590.00 Z" fill="#fff" stroke="#1a1a1a" stroke-width="1.0" stroke-linejoin="round" stroke-linecap="round"/>
<path d="M249.55,590 L249.55,595.00 M254.75,590 L254.75,594.70 M245.75,590 L257.75,590" fill="none" stroke="#1a1a1a" stroke-width="0.8" stroke-linejoin="round" stroke-linecap="round"/>
<path d="M268.65,572.5 L268.65,540.25 A3.60,2 0 0 1 275.85,540.25 L275.85,572.5" fill="#fff" stroke="#1a1a1a" stroke-width="1.0" stroke-linejoin="round" stroke-linecap="round"/>
<ellipse cx="272.25" cy="540.25" rx="2.80" ry="1.3" fill="none" stroke="#1a1a1a" stroke-width="0.7"/>
<path d="M267.25,572.5 L277.25,572.5 L278.25,574.50 L278.25,578.50 Q272.25,581.20 266.25,578.50 L266.25,574.50 Z" fill="#fff" stroke="#1a1a1a" stroke-width="1.0" stroke-linejoin="round" stroke-linecap="round"/>
<path d="M270.05,574.5 L270.05,580.00 M275.25,574.5 L275.25,579.70 M266.25,574.5 L278.25,574.5" fill="none" stroke="#1a1a1a" stroke-width="0.8" stroke-linejoin="round" stroke-linecap="round"/>
<path d="M294.40,583.75 L294.40,552.75 A3.60,2 0 0 1 301.60,552.75 L301.60,583.75" fill="#fff" stroke="#1a1a1a" stroke-width="1.0" stroke-linejoin="round" stroke-linecap="round"/>
<ellipse cx="298.00" cy="552.75" rx="2.80" ry="1.3" fill="none" stroke="#1a1a1a" stroke-width="0.7"/>
<path d="M293.00,583.75 L303.00,583.75 L304.00,585.75 L304.00,589.75 Q298.00,592.45 292.00,589.75 L292.00,585.75 Z" fill="#fff" stroke="#1a1a1a" stroke-width="1.0" stroke-linejoin="round" stroke-linecap="round"/>
<path d="M295.80,585.75 L295.80,591.25 M301.00,585.75 L301.00,590.95 M292.00,585.75 L304.00,585.75" fill="none" stroke="#1a1a1a" stroke-width="0.8" stroke-linejoin="round" stroke-linecap="round"/>
<path d="M333.40,600 L333.40,575.25 A3.60,2 0 0 1 340.60,575.25 L340.60,600" fill="#fff" stroke="#1a1a1a" stroke-width="1.0" stroke-linejoin="round" stroke-linecap="round"/>
<ellipse cx="337.00" cy="575.25" rx="2.80" ry="1.3" fill="none" stroke="#1a1a1a" stroke-width="0.7"/>
<path d="M332.00,600 L342.00,600 L343.00,602.00 L343.00,604.75 Q337.00,607.45 331.00,604.75 L331.00,602.00 Z" fill="#fff" stroke="#1a1a1a" stroke-width="1.0" stroke-linejoin="round" stroke-linecap="round"/>
<path d="M334.80,602 L334.80,606.25 M340.00,602 L340.00,605.95 M331.00,602 L343.00,602" fill="none" stroke="#1a1a1a" stroke-width="0.8" stroke-linejoin="round" stroke-linecap="round"/>
<path d="M354.65,610 L354.65,585.25 A3.60,2 0 0 1 361.85,585.25 L361.85,610" fill="#fff" stroke="#1a1a1a" stroke-width="1.0" stroke-linejoin="round" stroke-linecap="round"/>
<ellipse cx="358.25" cy="585.25" rx="2.80" ry="1.3" fill="none" stroke="#1a1a1a" stroke-width="0.7"/>
<path d="M353.25,610 L363.25,610 L364.25,612.00 L364.25,614.75 Q358.25,617.45 352.25,614.75 L352.25,612.00 Z" fill="#fff" stroke="#1a1a1a" stroke-width="1.0" stroke-linejoin="round" stroke-linecap="round"/>
<path d="M356.05,612 L356.05,616.25 M361.25,612 L361.25,615.95 M352.25,612 L364.25,612" fill="none" stroke="#1a1a1a" stroke-width="0.8" stroke-linejoin="round" stroke-linecap="round"/>
<path d="M396.90,628.5 L396.90,604.00 A3.60,2 0 0 1 404.10,604.00 L404.10,628.5" fill="#fff" stroke="#1a1a1a" stroke-width="1.0" stroke-linejoin="round" stroke-linecap="round"/>
<ellipse cx="400.50" cy="604.00" rx="2.80" ry="1.3" fill="none" stroke="#1a1a1a" stroke-width="0.7"/>
<path d="M395.50,628.5 L405.50,628.5 L406.50,630.50 L406.50,634.50 Q400.50,637.20 394.50,634.50 L394.50,630.50 Z" fill="#fff" stroke="#1a1a1a" stroke-width="1.0" stroke-linejoin="round" stroke-linecap="round"/>
<path d="M398.30,630.5 L398.30,636.00 M403.50,630.5 L403.50,635.70 M394.50,630.5 L406.50,630.5" fill="none" stroke="#1a1a1a" stroke-width="0.8" stroke-linejoin="round" stroke-linecap="round"/>
<path d="M417.90,639.6 L417.90,614.00 A3.60,2 0 0 1 425.10,614.00 L425.10,639.6" fill="#fff" stroke="#1a1a1a" stroke-width="1.0" stroke-linejoin="round" stroke-linecap="round"/>
<ellipse cx="421.50" cy="614.00" rx="2.80" ry="1.3" fill="none" stroke="#1a1a1a" stroke-width="0.7"/>
<path d="M416.50,639.6 L426.50,639.6 L427.50,641.60 L427.50,644.80 Q421.50,647.50 415.50,644.80 L415.50,641.60 Z" fill="#fff" stroke="#1a1a1a" stroke-width="1.0" stroke-linejoin="round" stroke-linecap="round"/>
<path d="M419.30,641.6 L419.30,646.30 M424.50,641.6 L424.50,646.00 M415.50,641.6 L427.50,641.6" fill="none" stroke="#1a1a1a" stroke-width="0.8" stroke-linejoin="round" stroke-linecap="round"/>
<ellipse cx="270.3" cy="206.7" rx="14.5" ry="7.5" fill="none" stroke="#1a1a1a" stroke-width="1"/>
<ellipse cx="270.3" cy="206.7" rx="12.6" ry="5.6" fill="none" stroke="#1a1a1a" stroke-width="0.9"/>
<ellipse cx="346.2" cy="247.1" rx="10.2" ry="5.5" fill="none" stroke="#1a1a1a" stroke-width="1"/>
<ellipse cx="346.2" cy="247.1" rx="8.2" ry="3.5" fill="none" stroke="#1a1a1a" stroke-width="0.9"/>
<ellipse cx="409.2" cy="276.8" rx="10.3" ry="5.7" fill="none" stroke="#1a1a1a" stroke-width="1"/>
<ellipse cx="409.2" cy="276.8" rx="8.3" ry="3.7" fill="none" stroke="#1a1a1a" stroke-width="0.9"/>
<ellipse cx="271.4" cy="403.1" rx="18.3" ry="9.7" fill="none" stroke="#1a1a1a" stroke-width="1"/>
<ellipse cx="271.4" cy="403.1" rx="15.5" ry="6.8999999999999995" fill="none" stroke="#1a1a1a" stroke-width="0.9"/>
<ellipse cx="346.4" cy="428.6" rx="10.4" ry="5.6" fill="none" stroke="#1a1a1a" stroke-width="1"/>
<ellipse cx="346.4" cy="428.6" rx="8.4" ry="3.5999999999999996" fill="none" stroke="#1a1a1a" stroke-width="0.9"/>
<ellipse cx="409.6" cy="457.9" rx="10.4" ry="5.8" fill="none" stroke="#1a1a1a" stroke-width="1"/>
<ellipse cx="409.6" cy="457.9" rx="8.4" ry="3.8" fill="none" stroke="#1a1a1a" stroke-width="0.9"/>
<path d="M235.8,164.5 L235.8,169.5 Q236.5,172 239.5,173.5 L267,186.2 Q271.5,188.2 276,186 L302,173 Q304.8,171.4 304.8,168.5 L304.8,163.5" fill="#fff" stroke="#1a1a1a" stroke-width="1.0" stroke-linejoin="round" stroke-linecap="round"/>
<path d="M238.5,160.2 L262,148.5 L280,148.5 L302,159.5 Q306,162.5 302.5,165.5 L275.5,179.8 Q271.5,181.8 267.5,179.8 L239,167 Q234.2,164 238.5,160.2 Z" fill="#fff" stroke="#1a1a1a" stroke-width="1.0" stroke-linejoin="round" stroke-linecap="round"/>
<ellipse cx="244.1" cy="162.6" rx="3.6" ry="2" fill="#fff" stroke="#1a1a1a" stroke-width="0.9"/>
<ellipse cx="296" cy="162" rx="3.6" ry="2" fill="#fff" stroke="#1a1a1a" stroke-width="0.9"/>
<ellipse cx="270.4" cy="174.7" rx="3.6" ry="2" fill="#fff" stroke="#1a1a1a" stroke-width="0.9"/>
<path d="M257.5,154.5 Q258,158.7 270,159 Q282,158.7 282.5,154 L282.5,150 L257.5,150 Z" fill="#fff" stroke="#1a1a1a" stroke-width="1.0" stroke-linejoin="round" stroke-linecap="round"/>
<path d="M258.2,153 Q260,157 270,157.2 Q280,157 281.8,152.5" fill="none" stroke="#1a1a1a" stroke-width="0.8" stroke-linejoin="round" stroke-linecap="round"/>
<path d="M260.1,137 L260.1,153 Q270,157 280,152.5 L280,143" fill="#fff" stroke="#1a1a1a" stroke-width="1.0" stroke-linejoin="round" stroke-linecap="round"/>
<path d="M262,118.7 Q255,120 253.5,126 Q253,132 255.5,135.8 L276.5,145 L287,131 L286.4,129.2 Z" fill="#fff" stroke="#1a1a1a" stroke-width="1.0" stroke-linejoin="round" stroke-linecap="round"/>
<path d="M262,118.7 L286.4,129.2" fill="none" stroke="#1a1a1a" stroke-width="1" stroke-linejoin="round" stroke-linecap="round"/>
<path d="M255.5,135.8 L276.5,145" fill="none" stroke="#1a1a1a" stroke-width="1" stroke-linejoin="round" stroke-linecap="round"/>
<path d="M259.5,130.5 L267.2,133.7 L267.2,138.8 L260.1,136.2 Z" fill="#fff" stroke="#1a1a1a" stroke-width="0.9" stroke-linejoin="round" stroke-linecap="round"/>
<path d="M280.6,130.5 L293,128.8 L299,145 L286.4,151.7 L277.4,145.3 Q276,137 280.6,130.5 Z" fill="#fff" stroke="#1a1a1a" stroke-width="1.0" stroke-linejoin="round" stroke-linecap="round"/>
<ellipse cx="291.5" cy="140.3" rx="7.3" ry="11.2" transform="rotate(28 291.5 140.3)" fill="#fff" stroke="#1a1a1a" stroke-width="1.1"/>
<ellipse cx="291.8" cy="140.3" rx="5.4" ry="8.7" transform="rotate(28 291.8 140.3)" fill="#fff" stroke="#1a1a1a" stroke-width="1.4"/>
<ellipse cx="292.3" cy="140.5" rx="3.6" ry="6.8" transform="rotate(28 292.3 140.5)" fill="none" stroke="#1a1a1a" stroke-width="0.7"/>
<g transform="translate(0,0)">
<path d="M326.5,183.3 L326.5,200 M364,194 L364,216 Q362.5,218.5 358,218.4 Q345,217.5 331.6,212.3" fill="none" stroke="#1a1a1a" stroke-width="1.0" stroke-linejoin="round" stroke-linecap="round"/>
<path d="M326.5,183.3 L326.5,205 L331.6,212.3 Q345,217.5 358,218.4 Q362.5,218.5 364,216 L364,194 Z" fill="#fff" stroke="#1a1a1a" stroke-width="0" stroke-linejoin="round" stroke-linecap="round"/>
<path d="M326.5,183.3 L326.5,200 M364,194 L364,216 Q362.5,218.5 358,218.4 Q345,217.5 331.6,212.3" fill="none" stroke="#1a1a1a" stroke-width="1.0" stroke-linejoin="round" stroke-linecap="round"/>
<path d="M326.5,183.3 Q326.5,179.5 331.5,179.5 Q342,179.8 350,182.5 Q358,186 363.4,193.5 Q356,197.5 348,196.5 Q337,194.5 326.5,183.3 Z" fill="#fff" stroke="#1a1a1a" stroke-width="1.0" stroke-linejoin="round" stroke-linecap="round"/>
<ellipse cx="334.2" cy="182.8" rx="3.2" ry="1.6" fill="#fff" stroke="#1a1a1a" stroke-width="0.9"/>
<ellipse cx="356.3" cy="193" rx="3.4" ry="1.8" fill="#fff" stroke="#1a1a1a" stroke-width="0.9"/>
<path d="M319.3,203.3 L326.5,201.3 Q331.5,205 330.8,211 Q329.5,216 324.5,217.3 L320,218 Z" fill="#fff" stroke="#1a1a1a" stroke-width="0" stroke-linejoin="round" stroke-linecap="round"/>
<path d="M319.3,203.3 Q325,200.5 328.5,203 Q331.5,206 330.8,211 Q329.5,216 322,218.4" fill="none" stroke="#1a1a1a" stroke-width="1.0" stroke-linejoin="round" stroke-linecap="round"/>
<path d="M326.5,201.2 L331.6,199.2 M331.6,212.5 L336.8,210" fill="none" stroke="#1a1a1a" stroke-width="0.8" stroke-linejoin="round" stroke-linecap="round"/>
<ellipse cx="317.3" cy="210.8" rx="5.3" ry="7.3" transform="rotate(18 317.3 210.8)" fill="#fff" stroke="#1a1a1a" stroke-width="1.1"/>
<ellipse cx="317.6" cy="210.8" rx="3.7" ry="5.6" transform="rotate(18 317.6 210.8)" fill="#fff" stroke="#1a1a1a" stroke-width="1.5"/>
<ellipse cx="318" cy="211" rx="2.3" ry="4.2" transform="rotate(18 318 211)" fill="none" stroke="#1a1a1a" stroke-width="0.6"/>
</g>
<g transform="translate(64,30)">
<path d="M326.5,183.3 L326.5,200 M364,194 L364,216 Q362.5,218.5 358,218.4 Q345,217.5 331.6,212.3" fill="none" stroke="#1a1a1a" stroke-width="1.0" stroke-linejoin="round" stroke-linecap="round"/>
<path d="M326.5,183.3 L326.5,205 L331.6,212.3 Q345,217.5 358,218.4 Q362.5,218.5 364,216 L364,194 Z" fill="#fff" stroke="#1a1a1a" stroke-width="0" stroke-linejoin="round" stroke-linecap="round"/>
<path d="M326.5,183.3 L326.5,200 M364,194 L364,216 Q362.5,218.5 358,218.4 Q345,217.5 331.6,212.3" fill="none" stroke="#1a1a1a" stroke-width="1.0" stroke-linejoin="round" stroke-linecap="round"/>
<path d="M326.5,183.3 Q326.5,179.5 331.5,179.5 Q342,179.8 350,182.5 Q358,186 363.4,193.5 Q356,197.5 348,196.5 Q337,194.5 326.5,183.3 Z" fill="#fff" stroke="#1a1a1a" stroke-width="1.0" stroke-linejoin="round" stroke-linecap="round"/>
<ellipse cx="334.2" cy="182.8" rx="3.2" ry="1.6" fill="#fff" stroke="#1a1a1a" stroke-width="0.9"/>
<ellipse cx="356.3" cy="193" rx="3.4" ry="1.8" fill="#fff" stroke="#1a1a1a" stroke-width="0.9"/>
<path d="M319.3,203.3 L326.5,201.3 Q331.5,205 330.8,211 Q329.5,216 324.5,217.3 L320,218 Z" fill="#fff" stroke="#1a1a1a" stroke-width="0" stroke-linejoin="round" stroke-linecap="round"/>
<path d="M319.3,203.3 Q325,200.5 328.5,203 Q331.5,206 330.8,211 Q329.5,216 322,218.4" fill="none" stroke="#1a1a1a" stroke-width="1.0" stroke-linejoin="round" stroke-linecap="round"/>
<path d="M326.5,201.2 L331.6,199.2 M331.6,212.5 L336.8,210" fill="none" stroke="#1a1a1a" stroke-width="0.8" stroke-linejoin="round" stroke-linecap="round"/>
<ellipse cx="317.3" cy="210.8" rx="5.3" ry="7.3" transform="rotate(18 317.3 210.8)" fill="#fff" stroke="#1a1a1a" stroke-width="1.1"/>
<ellipse cx="317.6" cy="210.8" rx="3.7" ry="5.6" transform="rotate(18 317.6 210.8)" fill="#fff" stroke="#1a1a1a" stroke-width="1.5"/>
<ellipse cx="318" cy="211" rx="2.3" ry="4.2" transform="rotate(18 318 211)" fill="none" stroke="#1a1a1a" stroke-width="0.6"/>
</g>
<line x1="345.5" y1="218" x2="345.5" y2="240" stroke="#a2a2a2" stroke-width="0.75" stroke-dasharray="4.5,1.8"/>
<line x1="345.5" y1="254" x2="345.5" y2="300" stroke="#a2a2a2" stroke-width="0.75" stroke-dasharray="4.5,1.8"/>
<line x1="356.3" y1="218" x2="356.3" y2="300" stroke="#a2a2a2" stroke-width="0.75" stroke-dasharray="4.5,1.8"/>
<path d="M256.30,470.00 C256.33,471.17 255.63,474.48 256.50,477.00 C257.37,479.52 259.25,483.52 261.50,485.10 C263.75,486.68 267.30,486.38 270.00,486.50 C272.70,486.62 274.45,486.40 277.70,485.80 C280.95,485.20 286.28,483.20 289.50,482.90 C292.72,482.60 294.53,483.88 297.00,484.00 C299.47,484.12 302.80,484.60 304.30,483.60 C305.80,482.60 305.77,480.27 306.00,478.00 C306.23,475.73 306.20,472.50 305.70,470.00 C305.20,467.50 303.45,464.17 303.00,463.00" fill="#fff" stroke="#1a1a1a" stroke-width="1.0" stroke-linejoin="round" stroke-linecap="round"/>
<path d="M280.70,446.00 L311.60,438.60 L322.00,446.00 L324.00,462.00 L320.50,466.00 L296.90,470.30 L285.00,462.00 Z" fill="#fff" stroke="#1a1a1a" stroke-width="0" stroke-linejoin="round" stroke-linecap="round"/>
<path d="M280.70,446.30 L311.60,438.60" fill="none" stroke="#1a1a1a" stroke-width="1.0" stroke-linejoin="round" stroke-linecap="round"/>
<path d="M296.90,470.30 L320.50,465.00" fill="none" stroke="#1a1a1a" stroke-width="1.0" stroke-linejoin="round" stroke-linecap="round"/>
<ellipse cx="319" cy="452.2" rx="6.8" ry="14.2" fill="#fff" stroke="#1a1a1a" stroke-width="1.1" transform="rotate(-12 319 452.2)"/>
<path d="M301.00,461.00 L301.50,471.00" fill="none" stroke="#1a1a1a" stroke-width="0.8" stroke-linejoin="round" stroke-linecap="round"/>
<path d="M237.20,457.80 C237.25,458.58 237.03,461.27 237.50,462.50 C237.97,463.73 239.08,464.62 240.00,465.20 C240.92,465.78 241.50,465.78 243.00,466.00 C244.50,466.22 247.00,466.00 249.00,466.50 C251.00,467.00 253.17,468.17 255.00,469.00 C256.83,469.83 258.58,470.58 260.00,471.50 C261.42,472.42 262.33,473.67 263.50,474.50 C264.67,475.33 265.67,476.03 267.00,476.50 C268.33,476.97 270.00,477.30 271.50,477.30 C273.00,477.30 274.58,477.13 276.00,476.50 C277.42,475.87 278.75,474.58 280.00,473.50 C281.25,472.42 282.00,471.08 283.50,470.00 C285.00,468.92 287.08,467.70 289.00,467.00 C290.92,466.30 293.08,466.05 295.00,465.80 C296.92,465.55 298.92,465.80 300.50,465.50 C302.08,465.20 303.63,464.67 304.50,464.00 C305.37,463.33 305.50,462.65 305.70,461.50 C305.90,460.35 305.70,457.83 305.70,457.10" fill="#fff" stroke="#1a1a1a" stroke-width="1.0" stroke-linejoin="round" stroke-linecap="round"/>
<path d="M237.20,457.80 C237.12,456.83 237.70,455.38 238.50,454.50 C239.30,453.62 240.58,452.95 242.00,452.50 C243.42,452.05 245.33,452.05 247.00,451.80 C248.67,451.55 250.50,451.38 252.00,451.00 C253.50,450.62 254.50,450.33 256.00,449.50 C257.50,448.67 259.75,447.12 261.00,446.00 C262.25,444.88 262.50,443.60 263.50,442.80 C264.50,442.00 265.73,441.53 267.00,441.20 C268.27,440.87 269.68,440.80 271.10,440.80 C272.52,440.80 274.18,440.83 275.50,441.20 C276.82,441.57 277.92,442.12 279.00,443.00 C280.08,443.88 280.83,445.42 282.00,446.50 C283.17,447.58 284.50,448.75 286.00,449.50 C287.50,450.25 289.25,450.62 291.00,451.00 C292.75,451.38 294.75,451.52 296.50,451.80 C298.25,452.08 300.08,452.17 301.50,452.70 C302.92,453.23 304.30,454.27 305.00,455.00 C305.70,455.73 305.78,456.35 305.70,457.10 C305.62,457.85 305.37,458.85 304.50,459.50 C303.63,460.15 302.08,460.70 300.50,461.00 C298.92,461.30 296.92,461.05 295.00,461.30 C293.08,461.55 290.92,461.80 289.00,462.50 C287.08,463.20 285.00,464.42 283.50,465.50 C282.00,466.58 281.25,467.92 280.00,469.00 C278.75,470.08 277.42,471.37 276.00,472.00 C274.58,472.63 273.00,472.80 271.50,472.80 C270.00,472.80 268.33,472.47 267.00,472.00 C265.67,471.53 264.67,470.83 263.50,470.00 C262.33,469.17 261.42,467.92 260.00,467.00 C258.58,466.08 256.83,465.33 255.00,464.50 C253.17,463.67 251.00,462.50 249.00,462.00 C247.00,461.50 244.67,461.78 243.00,461.50 C241.33,461.22 239.97,460.92 239.00,460.30 C238.03,459.68 237.28,458.77 237.20,457.80 Z" fill="#fff" stroke="#1a1a1a" stroke-width="1.0" stroke-linejoin="round" stroke-linecap="round"/>
<ellipse cx="246" cy="456.3" rx="4.2" ry="2.3" fill="#fff" stroke="#1a1a1a" stroke-width="1.0"/>
<ellipse cx="246" cy="456.3" rx="2.4" ry="1.2" fill="none" stroke="#1a1a1a" stroke-width="0.6"/>
<ellipse cx="271.1" cy="444.5" rx="4.2" ry="2.3" fill="#fff" stroke="#1a1a1a" stroke-width="1.0"/>
<ellipse cx="271.1" cy="444.5" rx="2.4" ry="1.2" fill="none" stroke="#1a1a1a" stroke-width="0.6"/>
<ellipse cx="296.9" cy="456.3" rx="4.2" ry="2.3" fill="#fff" stroke="#1a1a1a" stroke-width="1.0"/>
<ellipse cx="296.9" cy="456.3" rx="2.4" ry="1.2" fill="none" stroke="#1a1a1a" stroke-width="0.6"/>
<ellipse cx="271.1" cy="469.6" rx="4.2" ry="2.3" fill="#fff" stroke="#1a1a1a" stroke-width="1.0"/>
<ellipse cx="271.1" cy="469.6" rx="2.4" ry="1.2" fill="none" stroke="#1a1a1a" stroke-width="0.6"/>
<ellipse cx="271.1" cy="456.3" rx="18.2" ry="8.8" fill="#fff" stroke="#1a1a1a" stroke-width="1.0"/>
<ellipse cx="271.1" cy="456.6" rx="15.3" ry="7.3" fill="#fff" stroke="#1a1a1a" stroke-width="0.8"/>
<ellipse cx="271.3" cy="456.6" rx="11.8" ry="6.1" fill="#fff" stroke="#1a1a1a" stroke-width="1.1"/>
<ellipse cx="271.5" cy="457.3" rx="9.8" ry="4.8" fill="none" stroke="#1a1a1a" stroke-width="0.6"/>
<path d="M274.5,459 Q278,457.5 280,459.5" fill="none" stroke="#1a1a1a" stroke-width="1.0" stroke-linejoin="round" stroke-linecap="round"/>
<line x1="246" y1="359" x2="246" y2="451" stroke="#a2a2a2" stroke-width="0.75" stroke-dasharray="4.5,1.8"/>
<line x1="271.3" y1="371" x2="271.3" y2="440" stroke="#a2a2a2" stroke-width="0.75" stroke-dasharray="4.5,1.8"/>
<line x1="297" y1="371" x2="297" y2="452" stroke="#a2a2a2" stroke-width="0.75" stroke-dasharray="4.5,1.8"/>
<line x1="297" y1="487" x2="297" y2="518" stroke="#a2a2a2" stroke-width="0.75" stroke-dasharray="4.5,1.8"/>
<path d="M246.7,471.8 L225.2,484 L225.2,509" fill="none" stroke="#a2a2a2" stroke-width="0.75" stroke-dasharray="4.5,1.8"/>
<line x1="226" y1="518" x2="226" y2="561" stroke="#a2a2a2" stroke-width="0.75" stroke-dasharray="4.5,1.8"/>
<line x1="298" y1="528" x2="298" y2="551" stroke="#a2a2a2" stroke-width="0.75" stroke-dasharray="4.5,1.8"/>
<g transform="translate(0,0)">
<path d="M356.60,476.10 L376.20,466.90 L387.00,464.00 L392.50,467.50 L394.00,474.00 L392.00,480.50 L389.00,482.80 L384.30,484.80 L365.80,492.30 Z" fill="#fff" stroke="#1a1a1a" stroke-width="0" stroke-linejoin="round" stroke-linecap="round"/>
<path d="M356.60,476.10 L376.20,466.90 L386.50,464.00" fill="none" stroke="#1a1a1a" stroke-width="1.0" stroke-linejoin="round" stroke-linecap="round"/>
<path d="M365.80,492.30 L384.30,484.80 L389.00,482.80" fill="none" stroke="#1a1a1a" stroke-width="1.0" stroke-linejoin="round" stroke-linecap="round"/>
<path d="M386.50,464.00 C387.17,464.22 389.38,464.38 390.50,465.30 C391.62,466.22 392.65,467.97 393.20,469.50 C393.75,471.03 393.95,472.78 393.80,474.50 C393.65,476.22 393.10,478.42 392.30,479.80 C391.50,481.18 389.55,482.30 389.00,482.80" fill="none" stroke="#1a1a1a" stroke-width="1.0" stroke-linejoin="round" stroke-linecap="round"/>
<path d="M376.60,466.70 C377.05,467.33 378.63,468.95 379.30,470.50 C379.97,472.05 380.52,474.17 380.60,476.00 C380.68,477.83 380.20,479.83 379.80,481.50 C379.40,483.17 378.47,485.25 378.20,486.00" fill="none" stroke="#1a1a1a" stroke-width="1.5" stroke-linejoin="round" stroke-linecap="round"/>
<path d="M383.30,464.80 C383.72,465.42 385.15,466.97 385.80,468.50 C386.45,470.03 387.08,472.17 387.20,474.00 C387.32,475.83 386.90,477.83 386.50,479.50 C386.10,481.17 385.08,483.25 384.80,484.00" fill="none" stroke="#1a1a1a" stroke-width="1.5" stroke-linejoin="round" stroke-linecap="round"/>
<path d="M328.30,478.50 L328.30,501.00 L344.50,509.00 L352.00,509.60 L363.00,508.00 L365.60,506.70 L365.60,485.00 Z" fill="#fff" stroke="#1a1a1a" stroke-width="1.0" stroke-linejoin="round" stroke-linecap="round"/>
<path d="M344.50,490.00 L344.50,509.00" fill="none" stroke="#1a1a1a" stroke-width="0.9" stroke-linejoin="round" stroke-linecap="round"/>
<path d="M330.20,481.00 L330.20,502.00" fill="none" stroke="#1a1a1a" stroke-width="0.6" stroke-linejoin="round" stroke-linecap="round"/>
<path d="M328.30,478.50 C327.92,476.77 329.37,475.27 331.20,474.40 C333.03,473.53 335.83,473.20 339.30,473.30 C342.77,473.40 348.35,473.95 352.00,475.00 C355.65,476.05 358.98,477.87 361.20,479.60 C363.42,481.33 365.10,483.67 365.30,485.40 C365.50,487.13 364.62,489.15 362.40,490.00 C360.18,490.85 354.88,490.50 352.00,490.50 C349.12,490.50 348.18,490.95 345.10,490.00 C342.02,489.05 336.30,486.72 333.50,484.80 C330.70,482.88 328.68,480.23 328.30,478.50 Z" fill="#fff" stroke="#1a1a1a" stroke-width="1.0" stroke-linejoin="round" stroke-linecap="round"/>
<ellipse cx="335.8" cy="477.1" rx="3" ry="1.7" fill="#fff" stroke="#1a1a1a" stroke-width="0.9"/>
<ellipse cx="357.2" cy="487.1" rx="3" ry="1.7" fill="#fff" stroke="#1a1a1a" stroke-width="0.9"/>
<ellipse cx="347.4" cy="482.5" rx="9.8" ry="4.9" fill="#fff" stroke="#1a1a1a" stroke-width="0.8"/>
<ellipse cx="346.4" cy="483.1" rx="5.6" ry="3.4" fill="#fff" stroke="#1a1a1a" stroke-width="1.1"/>
<path d="M343.5,485 Q347,483.5 350.5,485" fill="none" stroke="#1a1a1a" stroke-width="1.2" stroke-linejoin="round" stroke-linecap="round"/>
</g>
<g transform="translate(62.5,29.2)">
<path d="M356.60,476.10 L376.20,466.90 L387.00,464.00 L392.50,467.50 L394.00,474.00 L392.00,480.50 L389.00,482.80 L384.30,484.80 L365.80,492.30 Z" fill="#fff" stroke="#1a1a1a" stroke-width="0" stroke-linejoin="round" stroke-linecap="round"/>
<path d="M356.60,476.10 L376.20,466.90 L386.50,464.00" fill="none" stroke="#1a1a1a" stroke-width="1.0" stroke-linejoin="round" stroke-linecap="round"/>
<path d="M365.80,492.30 L384.30,484.80 L389.00,482.80" fill="none" stroke="#1a1a1a" stroke-width="1.0" stroke-linejoin="round" stroke-linecap="round"/>
<path d="M386.50,464.00 C387.17,464.22 389.38,464.38 390.50,465.30 C391.62,466.22 392.65,467.97 393.20,469.50 C393.75,471.03 393.95,472.78 393.80,474.50 C393.65,476.22 393.10,478.42 392.30,479.80 C391.50,481.18 389.55,482.30 389.00,482.80" fill="none" stroke="#1a1a1a" stroke-width="1.0" stroke-linejoin="round" stroke-linecap="round"/>
<path d="M376.60,466.70 C377.05,467.33 378.63,468.95 379.30,470.50 C379.97,472.05 380.52,474.17 380.60,476.00 C380.68,477.83 380.20,479.83 379.80,481.50 C379.40,483.17 378.47,485.25 378.20,486.00" fill="none" stroke="#1a1a1a" stroke-width="1.5" stroke-linejoin="round" stroke-linecap="round"/>
<path d="M383.30,464.80 C383.72,465.42 385.15,466.97 385.80,468.50 C386.45,470.03 387.08,472.17 387.20,474.00 C387.32,475.83 386.90,477.83 386.50,479.50 C386.10,481.17 385.08,483.25 384.80,484.00" fill="none" stroke="#1a1a1a" stroke-width="1.5" stroke-linejoin="round" stroke-linecap="round"/>
<path d="M328.30,478.50 L328.30,501.00 L344.50,509.00 L352.00,509.60 L363.00,508.00 L365.60,506.70 L365.60,485.00 Z" fill="#fff" stroke="#1a1a1a" stroke-width="1.0" stroke-linejoin="round" stroke-linecap="round"/>
<path d="M344.50,490.00 L344.50,509.00" fill="none" stroke="#1a1a1a" stroke-width="0.9" stroke-linejoin="round" stroke-linecap="round"/>
<path d="M330.20,481.00 L330.20,502.00" fill="none" stroke="#1a1a1a" stroke-width="0.6" stroke-linejoin="round" stroke-linecap="round"/>
<path d="M328.30,478.50 C327.92,476.77 329.37,475.27 331.20,474.40 C333.03,473.53 335.83,473.20 339.30,473.30 C342.77,473.40 348.35,473.95 352.00,475.00 C355.65,476.05 358.98,477.87 361.20,479.60 C363.42,481.33 365.10,483.67 365.30,485.40 C365.50,487.13 364.62,489.15 362.40,490.00 C360.18,490.85 354.88,490.50 352.00,490.50 C349.12,490.50 348.18,490.95 345.10,490.00 C342.02,489.05 336.30,486.72 333.50,484.80 C330.70,482.88 328.68,480.23 328.30,478.50 Z" fill="#fff" stroke="#1a1a1a" stroke-width="1.0" stroke-linejoin="round" stroke-linecap="round"/>
<ellipse cx="335.8" cy="477.1" rx="3" ry="1.7" fill="#fff" stroke="#1a1a1a" stroke-width="0.9"/>
<ellipse cx="357.2" cy="487.1" rx="3" ry="1.7" fill="#fff" stroke="#1a1a1a" stroke-width="0.9"/>
<ellipse cx="347.4" cy="482.5" rx="9.8" ry="4.9" fill="#fff" stroke="#1a1a1a" stroke-width="0.8"/>
<ellipse cx="346.4" cy="483.1" rx="5.6" ry="3.4" fill="#fff" stroke="#1a1a1a" stroke-width="1.1"/>
<path d="M343.5,485 Q347,483.5 350.5,485" fill="none" stroke="#1a1a1a" stroke-width="1.2" stroke-linejoin="round" stroke-linecap="round"/>
</g>
<line x1="409.6" y1="425" x2="409.6" y2="452" stroke="#a2a2a2" stroke-width="0.75" stroke-dasharray="4.5,1.8"/>
<line x1="409.6" y1="463" x2="409.6" y2="511" stroke="#a2a2a2" stroke-width="0.75" stroke-dasharray="4.5,1.8"/>
<line x1="420.9" y1="425" x2="420.9" y2="515" stroke="#a2a2a2" stroke-width="0.75" stroke-dasharray="4.5,1.8"/>
<line x1="420.9" y1="540" x2="420.9" y2="573" stroke="#a2a2a2" stroke-width="0.75" stroke-dasharray="4.5,1.8"/>
<line x1="421.5" y1="582" x2="421.5" y2="612" stroke="#a2a2a2" stroke-width="0.75" stroke-dasharray="4.5,1.8"/>
<rect x="169" y="7" width="20.00" height="28.80" fill="#ffff00"/>
<path transform="translate(175.60,13.70) scale(0.95,0.97)" d="M4.2,0 C2,0 0.3,1.7 0.3,3.9 C0.3,6.1 2,7.7 4.2,7.7 C6.4,7.7 8.1,6.1 8.1,3.9 C8.1,1.7 6.4,0 4.2,0 Z M4.2,7.7 C1.8,7.7 0,10 0,12.6 C0,15.4 1.8,17.6 4.2,17.6 C6.6,17.6 8.5,15.4 8.5,12.6 C8.5,10 6.6,7.7 4.2,7.7 Z" fill="none" stroke="#222" stroke-width="0.9" stroke-linecap="round" stroke-linejoin="round"/>
<line x1="176.00" y1="33.60" x2="189.00" y2="33.60" stroke="#333" stroke-width="1"/>
<rect x="169" y="50" width="29.00" height="28.30" fill="#ffff00"/>
<path transform="translate(175.60,56.70) scale(0.95,0.97)" d="M0.4,3.6 L4.2,0 L4.2,17.5" fill="none" stroke="#222" stroke-width="0.9" stroke-linecap="round" stroke-linejoin="round"/>
<path transform="translate(184.10,56.70) scale(0.95,0.97)" d="M0.2,4.4 C0.2,1.8 2,0 4.3,0 C6.6,0 8.4,1.8 8.4,4.3 C8.4,6 7.7,7.2 6.6,8.7 L0,17.5 L8.5,17.5" fill="none" stroke="#222" stroke-width="0.9" stroke-linecap="round" stroke-linejoin="round"/>
<line x1="176.00" y1="76.80" x2="198.00" y2="76.80" stroke="#333" stroke-width="1"/>
<rect x="431" y="12.2" width="28.30" height="29.40" fill="#ffff00"/>
<path transform="translate(437.60,18.90) scale(0.95,0.97)" d="M0.4,3.6 L4.2,0 L4.2,17.5" fill="none" stroke="#222" stroke-width="0.9" stroke-linecap="round" stroke-linejoin="round"/>
<path transform="translate(446.10,18.90) scale(0.95,0.97)" d="M4.3,0 C1.8,0 0.4,3.6 0.4,8.75 C0.4,13.9 1.8,17.5 4.3,17.5 C6.8,17.5 8.2,13.9 8.2,8.75 C8.2,3.6 6.8,0 4.3,0 Z" fill="none" stroke="#222" stroke-width="0.9" stroke-linecap="round" stroke-linejoin="round"/>
<line x1="434.00" y1="39.80" x2="459.30" y2="39.80" stroke="#333" stroke-width="1"/>
<rect x="478" y="92" width="28.00" height="29.30" fill="#ffff00"/>
<path transform="translate(484.60,98.70) scale(0.95,0.97)" d="M0.4,3.6 L4.2,0 L4.2,17.5" fill="none" stroke="#222" stroke-width="0.9" stroke-linecap="round" stroke-linejoin="round"/>
<path transform="translate(493.10,98.70) scale(0.95,0.97)" d="M0.2,4.4 C0.2,1.8 2,0 4.3,0 C6.6,0 8.4,1.8 8.4,4.3 C8.4,6 7.7,7.2 6.6,8.7 L0,17.5 L8.5,17.5" fill="none" stroke="#222" stroke-width="0.9" stroke-linecap="round" stroke-linejoin="round"/>
<line x1="480.00" y1="119.30" x2="506.00" y2="119.30" stroke="#333" stroke-width="1"/>
<rect x="169" y="122" width="20.00" height="29.80" fill="#ffff00"/>
<path transform="translate(175.60,128.70) scale(0.95,0.97)" d="M0.2,4.4 C0.2,1.8 2,0 4.3,0 C6.6,0 8.4,1.8 8.4,4.3 C8.4,6 7.7,7.2 6.6,8.7 L0,17.5 L8.5,17.5" fill="none" stroke="#222" stroke-width="0.9" stroke-linecap="round" stroke-linejoin="round"/>
<line x1="176.00" y1="148.50" x2="189.00" y2="148.50" stroke="#333" stroke-width="1"/>
<rect x="168.6" y="164.2" width="29.40" height="29.00" fill="#ffff00"/>
<path transform="translate(175.20,170.90) scale(0.95,0.97)" d="M0.4,3.6 L4.2,0 L4.2,17.5" fill="none" stroke="#222" stroke-width="0.9" stroke-linecap="round" stroke-linejoin="round"/>
<path transform="translate(183.70,170.90) scale(0.95,0.97)" d="M8,0.2 L0.3,0.2 L0.3,7.8 L4.2,7.8 C6.9,7.8 8.2,9.6 8.2,12.5 C8.2,15.6 6.9,17.4 4.2,17.4 L0.3,17.4" fill="none" stroke="#222" stroke-width="0.9" stroke-linecap="round" stroke-linejoin="round"/>
<line x1="175.60" y1="190.80" x2="198.00" y2="190.80" stroke="#333" stroke-width="1"/>
<rect x="478.2" y="142.2" width="19.80" height="29.30" fill="#ffff00"/>
<path transform="translate(484.80,148.90) scale(0.95,0.97)" d="M8,0.2 L0.3,0.2 L0.3,7.8 L4.2,7.8 C6.9,7.8 8.2,9.6 8.2,12.5 C8.2,15.6 6.9,17.4 4.2,17.4 L0.3,17.4" fill="none" stroke="#222" stroke-width="0.9" stroke-linecap="round" stroke-linejoin="round"/>
<line x1="480.00" y1="169.00" x2="498.00" y2="169.00" stroke="#333" stroke-width="1"/>
<rect x="169" y="216" width="32.30" height="30.40" fill="#ffff00"/>
<path transform="translate(175.60,222.70) scale(0.95,0.97)" d="M0.2,4.4 C0.2,1.8 2,0 4.3,0 C6.6,0 8.4,1.8 8.4,4.3 C8.4,6 7.7,7.2 6.6,8.7 L0,17.5 L8.5,17.5" fill="none" stroke="#222" stroke-width="0.9" stroke-linecap="round" stroke-linejoin="round"/>
<path transform="translate(187.50,222.70) scale(0.95,0.97)" d="M4.3,0 C1.8,0 0.4,3.6 0.4,8.75 C0.4,13.9 1.8,17.5 4.3,17.5 C6.8,17.5 8.2,13.9 8.2,8.75 C8.2,3.6 6.8,0 4.3,0 Z" fill="none" stroke="#222" stroke-width="0.9" stroke-linecap="round" stroke-linejoin="round"/>
<line x1="176.00" y1="243.20" x2="201.30" y2="243.20" stroke="#333" stroke-width="1"/>
<rect x="478.2" y="212.5" width="29.80" height="30.00" fill="#ffff00"/>
<path transform="translate(484.80,219.20) scale(0.95,0.97)" d="M0.4,3.6 L4.2,0 L4.2,17.5" fill="none" stroke="#222" stroke-width="0.9" stroke-linecap="round" stroke-linejoin="round"/>
<path transform="translate(493.30,219.20) scale(0.95,0.97)" d="M4.6,0 L0.3,13.4 L9.9,13.4 M7.5,9.2 L7.5,17.5" fill="none" stroke="#222" stroke-width="0.9" stroke-linecap="round" stroke-linejoin="round"/>
<line x1="481.70" y1="239.40" x2="508.00" y2="239.40" stroke="#333" stroke-width="1"/>
<rect x="168.7" y="359" width="29.30" height="30.50" fill="#ffff00"/>
<path transform="translate(175.30,365.70) scale(0.95,0.97)" d="M0.4,3.6 L4.2,0 L4.2,17.5" fill="none" stroke="#222" stroke-width="0.9" stroke-linecap="round" stroke-linejoin="round"/>
<path transform="translate(183.80,365.70) scale(0.95,0.97)" d="M7.2,0.3 C3.2,2.5 0.1,6.5 0.1,12.3 C0.1,15.5 1.9,17.5 4.25,17.5 C6.6,17.5 8.4,15.5 8.4,12.6 C8.4,9.7 6.6,7.8 4.25,7.8 C2.4,7.8 0.8,9 0.3,10.8" fill="none" stroke="#222" stroke-width="0.9" stroke-linecap="round" stroke-linejoin="round"/>
<line x1="175.70" y1="385.50" x2="198.00" y2="385.50" stroke="#333" stroke-width="1"/>
<rect x="478" y="386.3" width="30.00" height="30.20" fill="#ffff00"/>
<path transform="translate(484.60,393.00) scale(0.95,0.97)" d="M0.4,3.6 L4.2,0 L4.2,17.5" fill="none" stroke="#222" stroke-width="0.9" stroke-linecap="round" stroke-linejoin="round"/>
<path transform="translate(493.10,393.00) scale(0.95,0.97)" d="M4.6,0 L0.3,13.4 L9.9,13.4 M7.5,9.2 L7.5,17.5" fill="none" stroke="#222" stroke-width="0.9" stroke-linecap="round" stroke-linejoin="round"/>
<line x1="478.30" y1="413.00" x2="508.00" y2="413.00" stroke="#333" stroke-width="1"/>
<rect x="478.2" y="454.5" width="19.80" height="29.60" fill="#ffff00"/>
<path transform="translate(484.80,461.20) scale(0.95,0.97)" d="M0.3,0.3 L4.6,0.3 C6.8,0.3 8,1.9 8,4 C8,6.1 6.8,7.6 4.8,7.6 L0.8,7.6 M4.8,7.6 C7,7.6 8.2,9.5 8.2,12.3 C8.2,15.6 6.8,17.4 4.3,17.4 L0.2,17.4" fill="none" stroke="#222" stroke-width="0.9" stroke-linecap="round" stroke-linejoin="round"/>
<line x1="478.20" y1="481.30" x2="498.00" y2="481.30" stroke="#333" stroke-width="1"/>
<rect x="169" y="468.75" width="29.00" height="30.80" fill="#ffff00"/>
<path transform="translate(175.60,475.45) scale(0.95,0.97)" d="M0.4,3.6 L4.2,0 L4.2,17.5" fill="none" stroke="#222" stroke-width="0.9" stroke-linecap="round" stroke-linejoin="round"/>
<path transform="translate(184.10,475.45) scale(0.95,0.97)" d="M0.2,4.4 C0.2,1.8 2,0 4.3,0 C6.6,0 8.4,1.8 8.4,4.3 C8.4,6 7.7,7.2 6.6,8.7 L0,17.5 L8.5,17.5" fill="none" stroke="#222" stroke-width="0.9" stroke-linecap="round" stroke-linejoin="round"/>
<line x1="176.00" y1="497.00" x2="198.00" y2="497.00" stroke="#333" stroke-width="1"/>
<rect x="478.5" y="524.2" width="27.70" height="29.70" fill="#ffff00"/>
<path transform="translate(485.10,530.90) scale(0.95,0.97)" d="M0.4,3.6 L4.2,0 L4.2,17.5" fill="none" stroke="#222" stroke-width="0.9" stroke-linecap="round" stroke-linejoin="round"/>
<path transform="translate(493.60,530.90) scale(0.95,0.97)" d="M0.2,4.4 C0.2,1.8 2,0 4.3,0 C6.6,0 8.4,1.8 8.4,4.3 C8.4,6 7.7,7.2 6.6,8.7 L0,17.5 L8.5,17.5" fill="none" stroke="#222" stroke-width="0.9" stroke-linecap="round" stroke-linejoin="round"/>
<line x1="479.00" y1="551.20" x2="506.20" y2="551.20" stroke="#333" stroke-width="1"/>
<rect x="478.5" y="571.7" width="19.80" height="29.20" fill="#ffff00"/>
<path transform="translate(485.10,578.40) scale(0.95,0.97)" d="M4.2,0 C1.8,0 0.1,2.1 0.1,5 C0.1,7.9 1.8,10 4.2,10 C6.5,10 8.3,7.9 8.3,5 C8.3,2.1 6.5,0 4.2,0 Z M7.4,8.7 L2.3,17.3" fill="none" stroke="#222" stroke-width="0.9" stroke-linecap="round" stroke-linejoin="round"/>
<line x1="479.00" y1="598.30" x2="498.30" y2="598.30" stroke="#333" stroke-width="1"/>
<rect x="168.6" y="616.1" width="21.10" height="30.00" fill="#ffff00"/>
<path transform="translate(175.20,622.80) scale(0.95,0.97)" d="M0,1.3 L0.4,0.2 L8.8,0 L3.4,17.4" fill="none" stroke="#222" stroke-width="0.9" stroke-linecap="round" stroke-linejoin="round"/>
<line x1="175.60" y1="643.80" x2="192.50" y2="643.80" stroke="#333" stroke-width="1"/>
<rect x="241" y="616.25" width="25.50" height="30.05" fill="#ffff00"/>
<path transform="translate(247.60,622.95) scale(0.95,0.97)" d="M0.4,3.6 L4.2,0 L4.2,17.5" fill="none" stroke="#222" stroke-width="0.9" stroke-linecap="round" stroke-linejoin="round"/>
<path transform="translate(256.10,622.95) scale(0.95,0.97)" d="M0.4,3.6 L4.2,0 L4.2,17.5" fill="none" stroke="#222" stroke-width="0.9" stroke-linecap="round" stroke-linejoin="round"/>
<line x1="248.00" y1="643.80" x2="268.50" y2="643.80" stroke="#333" stroke-width="1"/>
<rect x="169" y="405" width="17.00" height="29.40" fill="#f58585"/>
<path transform="translate(175.60,411.70) scale(0.95,0.97)" d="M0.4,3.6 L4.2,0 L4.2,17.5" fill="none" stroke="#222" stroke-width="0.9" stroke-linecap="round" stroke-linejoin="round"/>
<line x1="176.00" y1="431.60" x2="186.00" y2="431.60" stroke="#333" stroke-width="1"/>
<line x1="189" y1="33.6" x2="263.5" y2="19.5" stroke="#5a5a5a" stroke-width="0.8"/>
<line x1="189" y1="33.6" x2="240" y2="44" stroke="#5a5a5a" stroke-width="0.8"/>
<line x1="198" y1="76.8" x2="238.5" y2="89" stroke="#5a5a5a" stroke-width="0.8"/>
<line x1="434" y1="39.8" x2="361.5" y2="80" stroke="#5a5a5a" stroke-width="0.8"/>
<line x1="434" y1="39.8" x2="419" y2="86" stroke="#5a5a5a" stroke-width="0.8"/>
<line x1="480" y1="119.3" x2="421" y2="148" stroke="#5a5a5a" stroke-width="0.8"/>
<line x1="189" y1="148.5" x2="236.5" y2="162" stroke="#5a5a5a" stroke-width="0.8"/>
<line x1="198" y1="191" x2="256" y2="204" stroke="#5a5a5a" stroke-width="0.8"/>
<line x1="480" y1="169" x2="364" y2="189" stroke="#5a5a5a" stroke-width="0.8"/>
<line x1="480" y1="169" x2="426" y2="217.5" stroke="#5a5a5a" stroke-width="0.8"/>
<line x1="201" y1="243" x2="223.5" y2="262.5" stroke="#5a5a5a" stroke-width="0.8"/>
<line x1="481.7" y1="239.4" x2="417.5" y2="271" stroke="#5a5a5a" stroke-width="0.8"/>
<line x1="198" y1="385.5" x2="253.5" y2="398.8" stroke="#5a5a5a" stroke-width="0.8"/>
<line x1="186" y1="431.6" x2="236.7" y2="454.8" stroke="#5a5a5a" stroke-width="0.8"/>
<line x1="478.3" y1="413" x2="415" y2="452.5" stroke="#5a5a5a" stroke-width="0.8"/>
<line x1="478" y1="481.3" x2="393.5" y2="472.5" stroke="#5a5a5a" stroke-width="0.8"/>
<line x1="478" y1="481.3" x2="454.75" y2="496.25" stroke="#5a5a5a" stroke-width="0.8"/>
<line x1="198" y1="497" x2="219.75" y2="511.25" stroke="#5a5a5a" stroke-width="0.8"/>
<line x1="479" y1="551.2" x2="425.8" y2="575.4" stroke="#5a5a5a" stroke-width="0.8"/>
<line x1="479" y1="598.3" x2="362" y2="587" stroke="#5a5a5a" stroke-width="0.8"/>
<line x1="479" y1="598.3" x2="425.8" y2="619.9" stroke="#5a5a5a" stroke-width="0.8"/>
<line x1="192.5" y1="643.8" x2="223" y2="582.5" stroke="#5a5a5a" stroke-width="0.8"/>
<line x1="192.5" y1="643.8" x2="247.25" y2="595" stroke="#5a5a5a" stroke-width="0.8"/>
<line x1="268.5" y1="643.8" x2="273.5" y2="580" stroke="#5a5a5a" stroke-width="0.8"/>
<line x1="268.5" y1="643.8" x2="302.25" y2="591.25" stroke="#5a5a5a" stroke-width="0.8"/>
<line x1="14.7" y1="118.7" x2="157" y2="392" stroke="#ff0000" stroke-width="4.2" stroke-linecap="round"/>
<path d="M149.7,394.7 L165.8,385.8 L171.2,415.5 Z" fill="#ff0000" stroke="#ff0000" stroke-width="1" stroke-linejoin="round"/>
</svg></body></html>
